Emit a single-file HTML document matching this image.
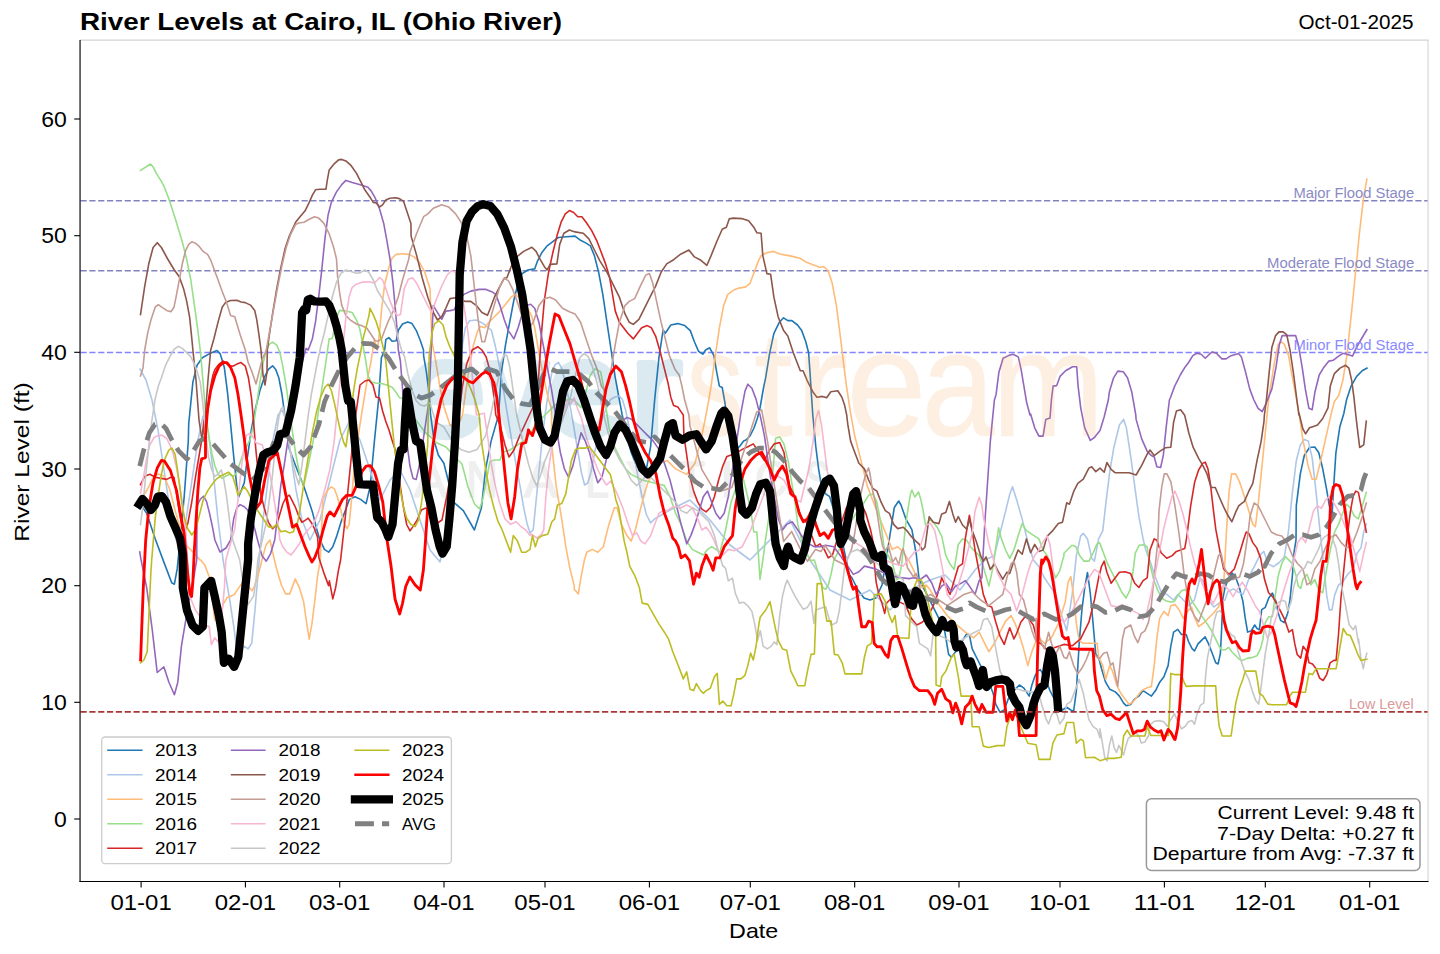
<!DOCTYPE html>
<html><head><meta charset="utf-8"><title>River Levels at Cairo, IL (Ohio River)</title>
<style>html,body{margin:0;padding:0;background:#fff;}body{width:1440px;height:954px;overflow:hidden;position:relative;font-family:"Liberation Sans",sans-serif;}</style></head>
<body>
<svg width="1440" height="954" viewBox="0 0 1440 954" style="position:absolute;left:0;top:0;font-family:'Liberation Sans',sans-serif">
<rect x="0" y="0" width="1440" height="954" fill="#fff"/>
<defs><clipPath id="ax"><rect x="80.5" y="40.5" width="1347.5" height="840.5"/></clipPath></defs>
<line x1="80.5" x2="1428" y1="200.8" y2="200.8" stroke="#8282c0" stroke-width="1.55" stroke-dasharray="6.17 2.67"/>
<line x1="80.5" x2="1428" y1="270.8" y2="270.8" stroke="#8282c0" stroke-width="1.55" stroke-dasharray="6.17 2.67"/>
<line x1="80.5" x2="1428" y1="352.4" y2="352.4" stroke="#8484ff" stroke-width="1.55" stroke-dasharray="6.17 2.67"/>
<g clip-path="url(#ax)" fill="none" stroke-linejoin="round">
<path d="M141.1,505.0 L146.7,513.3 L155.0,538.3 L163.3,560.6 L171.7,582.8 L174.4,584.2 L177.2,568.9 L180.0,541.1 L184.2,496.7 L188.3,441.1 L188.7,423.9 L192.9,381.9 L197.1,365.2 L202.3,357.8 L209.7,353.6 L217.0,350.5 L220.1,353.6 L224.3,367.3 L227.5,392.4 L230.6,423.9 L233.8,457.4 L236.9,486.8 L238.6,497.2 L241.1,490.9 L244.3,482.6 L247.4,457.4 L251.6,428.1 L255.8,407.1 L260.0,390.3 L264.2,377.7 L268.4,369.4 L272.6,365.8 L275.7,369.4 L278.8,377.7 L282.0,394.5 L285.1,417.6 L289.3,449.0 L295.6,465.8 L299.8,476.3 L304.0,486.8 L308.2,499.3 L312.4,511.9 L316.6,528.7 L319.7,539.2 L324.4,549.4 L328.6,552.2 L332.8,546.7 L336.9,535.6 L341.1,521.7 L345.3,510.6 L349.4,499.4 L355.0,496.7 L360.6,499.4 L366.1,503.6 L370.3,485.6 L374.4,441.1 L378.6,399.4 L381.4,357.8 L384.7,350.0 L385.8,339.7 L388.9,337.6 L392.1,341.2 L396.2,340.8 L398.3,330.3 L402.5,324.0 L407.8,321.9 L412.0,323.6 L416.2,330.3 L420.4,340.8 L423.5,350.0 L423.6,355.6 L426.4,372.2 L429.2,394.4 L430.6,415.0 L434.2,441.1 L438.3,455.0 L443.9,463.3 L453.6,502.2 L463.3,510.6 L474.4,530.0 L481.4,507.8 L485.6,468.9 L491.1,441.1 L498.6,415.0 L501.4,372.2 L505.6,344.4 L509.7,322.2 L513.9,300.0 L518.1,283.3 L522.2,273.6 L527.8,270.0 L534.7,268.9 L537.5,261.1 L541.7,252.8 L547.2,245.8 L552.8,241.7 L558.3,237.5 L566.7,236.7 L575.0,236.1 L580.6,240.3 L586.1,243.1 L590.3,245.8 L594.4,255.6 L598.6,272.2 L602.8,294.4 L606.9,322.2 L611.1,350.0 L615.3,377.8 L619.4,400.0 L622.2,415.0 L626.9,435.6 L631.1,452.2 L636.7,466.1 L642.2,470.3 L646.4,468.9 L650.6,446.7 L654.7,399.4 L658.9,357.8 L663.1,330.0 L665.3,333.3 L670.8,325.0 L677.8,323.6 L684.7,325.6 L690.3,330.6 L694.4,341.7 L698.6,351.4 L702.8,354.2 L705.6,350.0 L709.7,347.8 L713.9,355.6 L716.7,372.2 L719.4,386.1 L722.2,387.5 L725.0,402.8 L726.4,415.0 L729.7,421.7 L732.5,441.1 L735.3,449.4 L739.4,446.7 L743.6,441.1 L746.0,440.0 L750.0,436.0 L754.0,428.0 L757.5,418.0 L760.0,408.0 L761.4,400.0 L763.5,388.0 L765.6,378.2 L769.7,352.8 L773.9,333.3 L779.4,322.2 L783.6,317.8 L787.8,320.6 L791.9,320.6 L797.5,325.0 L801.7,330.6 L805.8,341.7 L808.6,352.8 L810.0,372.2 L811.4,394.4 L812.8,415.0 L815.8,446.7 L818.6,468.9 L821.4,485.6 L825.6,493.9 L829.7,496.7 L833.9,510.6 L838.1,524.4 L842.2,541.1 L846.4,560.6 L849.2,574.4 L852.0,578.0 L858.0,590.0 L864.0,598.0 L870.0,600.0 L876.0,598.0 L882.0,585.0 L885.4,565.0 L889.9,535.5 L894.3,507.5 L898.7,501.0 L901.0,505.0 L906.0,519.3 L911.9,529.6 L916.3,554.5 L919.2,580.0 L927.8,596.1 L936.1,612.8 L944.4,629.4 L948.6,654.4 L951.4,657.2 L955.6,651.7 L959.7,648.9 L962.5,640.6 L966.7,633.6 L969.4,635.0 L972.2,648.9 L977.8,660.0 L983.3,671.1 L988.9,682.2 L993.1,693.3 L995.8,704.4 L1000.0,712.2 L1004.2,710.0 L1008.3,698.9 L1013.9,690.6 L1019.4,685.0 L1023.6,687.8 L1026.4,691.9 L1029.2,696.1 L1031.9,685.0 L1034.7,676.7 L1037.5,671.1 L1040.3,669.7 L1044.4,676.7 L1050.0,690.6 L1055.6,701.7 L1062.5,710.0 L1066.7,707.2 L1070.8,710.0 L1073.6,711.4 L1076.4,690.6 L1079.2,643.3 L1081.9,610.0 L1084.7,587.8 L1087.5,572.5 L1090.3,593.3 L1093.1,623.9 L1095.8,654.4 L1098.6,657.2 L1101.4,668.3 L1105.6,682.2 L1109.7,689.2 L1115.3,691.9 L1119.4,696.1 L1123.6,703.1 L1126.4,705.8 L1130.6,704.4 L1134.7,698.9 L1138.9,696.1 L1143.1,690.6 L1147.2,693.3 L1151.4,696.1 L1155.6,690.6 L1159.7,682.2 L1163.9,676.7 L1168.1,665.6 L1170.8,646.1 L1173.6,632.2 L1177.8,629.4 L1181.5,634.5 L1186.2,634.5 L1188.5,641.5 L1192.1,648.6 L1194.5,651.0 L1198.0,643.9 L1201.5,640.4 L1205.1,636.8 L1208.6,643.9 L1212.2,653.3 L1215.7,662.8 L1218.1,664.0 L1220.4,653.3 L1221.6,629.7 L1222.8,599.0 L1225.1,587.2 L1228.7,577.8 L1232.2,573.1 L1235.8,577.8 L1239.3,587.2 L1242.9,601.4 L1245.2,617.9 L1247.6,632.1 L1251.1,630.9 L1254.7,625.0 L1257.0,628.5 L1259.4,629.7 L1261.7,609.7 L1265.3,607.3 L1268.8,597.9 L1272.4,593.1 L1275.9,601.4 L1278.3,613.2 L1280.6,620.3 L1284.2,622.6 L1287.7,613.2 L1290.1,599.0 L1292.4,575.4 L1294.1,551.8 L1296.0,540.0 L1296.3,505.6 L1300.3,473.9 L1304.3,455.5 L1309.5,447.5 L1314.8,447.0 L1318.8,452.8 L1322.7,468.7 L1326.7,489.8 L1329.3,505.6 L1332.0,516.2 L1333.3,492.4 L1335.9,452.8 L1339.9,426.4 L1343.9,413.2 L1346.5,400.0 L1351.1,386.1 L1356.7,376.4 L1362.2,370.8 L1366.9,368.1" stroke="#1f77b4" stroke-width="1.6" stroke-linecap="square"/>
<path d="M140.0,369.0 L146.0,380.0 L152.0,400.0 L158.0,430.0 L164.0,470.0 L170.0,510.0 L176.0,540.0 L181.0,548.0 L186.0,520.0 L192.0,480.0 L198.0,440.0 L203.0,416.0 L208.0,430.0 L213.0,470.0 L218.0,520.0 L223.1,560.0 L225.8,576.7 L230.0,601.7 L234.2,629.4 L236.9,651.7 L239.7,654.4 L243.9,646.1 L248.1,648.9 L251.7,643.3 L255.0,610.0 L257.8,576.7 L259.2,560.0 L263.0,520.0 L268.0,480.0 L273.0,440.0 L278.0,415.0 L282.0,410.0 L286.0,420.0 L290.0,450.0 L296.0,490.0 L302.0,520.0 L310.0,540.0 L320.0,520.0 L330.0,480.0 L340.0,440.0 L350.0,420.0 L360.0,440.0 L370.0,470.0 L380.0,500.0 L390.0,480.0 L400.0,470.0 L410.0,490.0 L420.0,520.0 L430.0,550.0 L440.0,562.0 L448.0,520.0 L455.0,440.0 L460.0,380.0 L462.5,344.4 L465.3,327.8 L469.4,320.8 L476.4,320.0 L483.3,323.6 L491.3,330.0 L495.5,346.8 L499.7,367.7 L503.9,392.9 L508.0,418.0 L512.2,443.2 L516.4,466.3 L520.6,489.3 L523.8,508.2 L526.9,522.9 L530.0,533.0 L533.2,530.0 L536.4,497.7 L539.5,466.3 L542.6,434.8 L545.8,409.7 L548.9,388.7 L552.0,372.0 L555.2,364.6 L558.4,362.5 L561.5,367.7 L564.7,380.3 L568.8,399.2 L573.0,422.2 L577.2,447.4 L581.4,472.5 L584.6,485.0 L587.7,483.0 L590.9,472.5 L594.0,455.8 L598.2,434.8 L602.4,418.0 L606.6,407.6 L610.8,399.2 L615.0,397.0 L619.2,396.0 L622.3,399.2 L625.5,409.7 L628.6,424.3 L631.7,441.0 L634.9,460.0 L638.0,476.8 L642.2,497.7 L646.4,514.5 L650.6,522.9 L654.8,518.7 L670.0,510.0 L690.0,500.0 L710.0,520.0 L730.0,545.0 L750.0,560.0 L770.0,540.0 L790.0,520.0 L810.0,560.0 L830.0,590.0 L850.0,600.0 L870.0,590.0 L890.0,610.0 L910.0,590.0 L930.0,580.0 L945.0,575.0 L960.0,590.0 L975.0,570.0 L985.0,560.0 L994.4,555.6 L1000.0,533.3 L1005.6,511.1 L1009.7,494.4 L1012.5,486.7 L1016.7,500.0 L1022.2,519.4 L1027.8,541.7 L1033.3,559.7 L1038.9,566.7 L1044.4,577.8 L1050.0,586.1 L1055.6,594.4 L1061.1,613.9 L1066.7,630.6 L1072.2,594.4 L1076.4,555.6 L1080.6,536.1 L1083.3,533.3 L1087.5,538.9 L1091.7,558.3 L1094.4,561.1 L1098.6,538.9 L1102.8,530.6 L1105.6,505.6 L1109.7,472.2 L1113.9,447.2 L1119.4,425.0 L1123.6,419.4 L1126.4,427.8 L1130.6,455.6 L1134.7,486.1 L1138.9,516.7 L1143.1,538.9 L1145.8,550.0 L1150.0,561.1 L1155.6,577.8 L1161.1,591.7 L1166.7,594.4 L1173.6,600.0 L1177.8,594.4 L1183.3,600.0 L1188.9,605.6 L1194.4,600.0 L1200.0,577.8 L1202.8,580.6 L1208.3,600.0 L1213.9,606.9 L1219.4,602.8 L1225.0,600.0 L1227.8,591.7 L1233.3,588.9 L1237.5,591.7 L1243.1,594.4 L1247.2,583.3 L1251.4,572.2 L1255.6,563.9 L1259.7,555.6 L1263.9,551.4 L1268.1,563.9 L1273.6,566.7 L1279.2,562.5 L1283.3,558.3 L1284.5,555.8 L1288.4,532.0 L1292.4,492.4 L1296.3,460.7 L1300.3,444.9 L1304.3,439.6 L1308.2,440.9 L1312.2,458.1 L1316.1,492.4 L1320.1,532.0 L1324.1,569.0 L1326.7,595.4 L1329.3,609.9 L1332.0,609.9 L1334.6,595.4 L1338.6,584.8 L1342.5,582.2 L1347.8,574.3 L1353.1,569.0 L1357.1,553.2 L1361.0,547.9 L1363.7,532.0 L1366.3,524.1" stroke="#aec7e8" stroke-width="1.6" stroke-linecap="square"/>
<path d="M141.0,500.0 L147.0,490.0 L153.0,478.0 L158.0,474.0 L164.0,476.0 L170.0,490.0 L175.0,510.0 L180.0,528.0 L186.0,545.0 L193.0,552.0 L200.0,560.0 L200.8,560.0 L205.0,565.6 L209.2,576.7 L211.9,596.1 L214.7,619.7 L218.9,621.1 L223.1,604.4 L227.2,597.5 L234.2,594.7 L239.7,586.4 L243.9,580.8 L249.4,587.8 L252.2,590.6 L255.0,585.0 L259.2,571.1 L261.9,560.0 L266.0,545.0 L270.0,540.0 L274.4,560.0 L277.2,571.1 L281.4,585.0 L285.6,593.9 L289.7,593.9 L295.3,578.9 L299.4,587.8 L303.6,601.7 L306.4,621.1 L309.2,639.2 L311.9,623.9 L314.7,601.7 L317.5,576.7 L320.3,560.0 L322.9,499.3 L327.1,490.9 L331.3,486.8 L334.4,488.8 L337.5,497.2 L340.7,509.8 L343.8,522.4 L347.0,528.7 L349.1,524.5 L351.2,503.5 L354.3,465.8 L358.5,434.3 L362.7,407.1 L366.9,381.9 L371.1,361.0 L374.2,340.0 L377.4,350.0 L379.5,332.4 L381.6,309.3 L384.7,284.2 L388.9,267.4 L392.1,258.0 L396.2,254.4 L402.5,253.8 L408.8,254.4 L414.1,256.9 L419.3,262.2 L424.5,271.6 L430.0,288.4 L431.9,341.7 L434.7,355.6 L437.5,372.2 L440.3,388.9 L444.4,408.3 L450.0,425.0 L456.9,427.8 L462.5,415.0 L465.3,394.4 L469.4,366.7 L473.6,344.4 L477.8,330.6 L480.6,326.4 L484.7,327.8 L488.9,322.2 L494.4,316.7 L500.0,311.1 L505.6,304.2 L511.1,297.2 L515.3,294.4 L522.2,300.0 L527.8,308.3 L531.9,316.7 L534.7,327.8 L537.5,344.4 L540.3,361.1 L544.4,380.6 L548.6,400.0 L551.4,408.3 L551.9,446.7 L556.1,485.6 L561.7,518.9 L565.8,546.7 L570.0,568.9 L574.2,585.6 L574.2,589.2 L578.3,593.9 L581.1,576.7 L584.4,560.0 L586.7,552.2 L592.2,549.4 L597.8,552.2 L603.3,546.7 L608.9,524.4 L614.4,507.8 L617.2,507.8 L621.4,524.4 L626.9,535.6 L631.1,541.1 L635.3,530.0 L639.4,513.3 L643.6,496.7 L647.8,482.8 L651.9,474.4 L658.9,463.3 L667.2,460.6 L675.6,468.9 L686.7,474.4 L695.0,463.3 L700.6,441.1 L704.7,421.7 L708.9,399.4 L711.1,386.1 L715.3,355.6 L719.4,327.8 L723.6,305.6 L727.8,294.4 L733.3,290.3 L738.9,288.1 L745.8,286.9 L750.0,283.3 L754.2,272.2 L758.3,261.1 L761.1,255.6 L766.7,252.8 L773.6,251.4 L780.6,254.2 L788.9,255.6 L794.4,256.9 L800.0,258.3 L805.8,261.9 L814.2,265.3 L819.7,267.2 L823.9,266.7 L828.1,270.8 L832.2,283.3 L836.4,305.6 L840.6,338.9 L842.2,352.2 L846.4,385.6 L850.6,413.3 L854.7,435.6 L858.9,452.2 L863.1,468.9 L867.2,485.6 L871.4,496.7 L875.6,507.8 L881.1,521.7 L886.7,535.6 L892.2,549.4 L897.8,546.7 L903.3,552.2 L908.9,560.6 L914.4,571.7 L916.7,579.4 L922.2,587.8 L926.4,585.0 L930.6,590.6 L938.9,604.4 L947.2,615.6 L955.6,623.9 L965.3,632.2 L973.6,637.8 L979.2,632.2 L983.3,640.6 L988.9,651.7 L994.4,643.3 L1000.0,632.2 L1005.6,621.1 L1011.1,615.6 L1015.3,623.9 L1019.4,635.0 L1023.6,648.9 L1027.8,665.6 L1031.9,651.7 L1036.1,640.6 L1038.9,637.8 L1044.4,643.3 L1051.4,637.8 L1058.3,623.9 L1065.3,601.7 L1068.1,582.2 L1070.8,576.7 L1073.6,596.1 L1076.4,623.9 L1079.2,640.6 L1083.3,643.3 L1091.7,643.3 L1097.2,643.3 L1098.6,657.2 L1102.8,665.6 L1105.6,679.4 L1109.7,665.6 L1112.5,671.1 L1116.7,685.0 L1120.8,693.3 L1125.0,698.9 L1129.2,704.4 L1133.3,701.7 L1137.5,696.1 L1141.7,690.6 L1147.2,687.8 L1151.4,686.4 L1154.2,665.6 L1156.9,637.8 L1159.7,618.3 L1163.9,611.4 L1168.1,615.6 L1170.8,605.8 L1175.0,604.4 L1179.2,610.0 L1183.3,618.3 L1187.5,611.4 L1191.7,607.2 L1194.4,616.9 L1198.6,626.7 L1204.2,622.5 L1208.3,618.3 L1213.9,612.8 L1218.1,607.2 L1221.1,600.7 L1223.7,584.8 L1226.4,532.0 L1229.0,492.4 L1231.6,473.9 L1235.6,473.9 L1239.6,481.9 L1244.8,497.7 L1248.8,510.9 L1252.8,524.1 L1255.4,526.7 L1258.0,505.6 L1260.7,479.2 L1264.6,439.6 L1268.6,400.0 L1270.6,386.1 L1274.7,361.1 L1278.3,344.4 L1281.1,341.7 L1284.4,344.4 L1288.6,355.6 L1291.4,372.2 L1295.6,394.4 L1299.0,413.2 L1302.9,439.6 L1308.2,466.0 L1312.2,479.2 L1316.1,479.2 L1320.1,463.4 L1325.4,439.6 L1330.7,415.8 L1334.4,401.4 L1338.6,395.8 L1342.8,380.6 L1346.9,355.6 L1351.1,316.7 L1355.3,275.0 L1359.4,233.3 L1363.6,197.2 L1366.9,179.2" stroke="#ffbb78" stroke-width="1.6" stroke-linecap="square"/>
<path d="M140.5,170.5 L150.5,164.0 L153.1,166.8 L156.2,173.1 L161.4,181.4 L164.6,187.7 L169.8,201.4 L176.1,221.3 L182.4,242.2 L186.6,259.0 L190.8,280.0 L195.0,309.3 L198.1,332.4 L200.2,350.0 L201.3,361.0 L203.4,386.1 L205.5,411.3 L208.6,434.3 L211.8,453.2 L214.9,465.8 L218.1,474.2 L222.2,478.4 L225.4,476.3 L229.6,474.2 L232.7,476.3 L235.9,474.2 L239.0,465.8 L243.2,453.2 L247.4,444.8 L250.5,438.5 L253.7,423.9 L256.8,402.9 L260.0,381.9 L263.1,363.1 L266.3,350.5 L269.4,344.2 L272.6,342.1 L276.8,345.2 L279.9,352.6 L283.0,367.3 L286.2,386.1 L289.3,409.2 L292.5,432.2 L295.6,453.2 L298.8,470.0 L300.9,480.5 L304.0,484.7 L308.2,465.8 L312.4,444.8 L316.6,423.9 L319.7,402.9 L322.9,381.9 L326.0,361.0 L328.1,346.3 L329.2,338.7 L332.3,338.7 L334.4,328.2 L336.5,317.7 L339.6,310.4 L345.9,311.0 L352.2,312.5 L356.4,319.8 L359.6,328.2 L361.7,338.7 L363.8,350.0 L365.8,361.0 L367.9,375.6 L371.1,381.9 L375.3,383.0 L381.6,383.6 L386.8,385.1 L392.1,387.2 L396.2,392.4 L399.4,397.7 L402.0,398.0 L412.0,415.0 L425.0,432.0 L437.0,443.0 L446.0,447.0 L454.0,456.0 L462.0,464.0 L468.0,487.0 L474.5,504.0 L479.7,509.0 L483.0,498.0 L487.0,477.0 L490.0,461.0 L495.0,460.0 L500.0,460.0 L503.0,452.0 L510.0,450.0 L525.0,440.0 L540.0,420.0 L555.0,405.0 L569.0,399.0 L575.0,401.0 L581.0,407.6 L585.6,393.0 L590.0,376.0 L594.0,369.8 L595.0,368.9 L600.6,371.7 L603.3,385.6 L606.1,407.8 L608.9,427.2 L614.4,446.7 L620.0,457.8 L625.6,468.9 L631.1,474.4 L642.2,480.0 L653.3,482.8 L664.4,485.6 L670.0,496.7 L675.6,513.3 L681.1,524.4 L686.7,541.1 L692.2,549.4 L697.8,552.2 L703.3,555.0 L707.5,549.4 L711.7,546.7 L715.8,549.4 L720.0,552.2 L725.6,530.0 L731.1,502.2 L736.7,485.6 L742.2,474.4 L750.6,509.0 L753.8,532.0 L756.9,532.0 L760.0,579.4 L763.2,557.4 L766.3,534.0 L769.5,513.4 L775.6,438.3 L779.7,436.9 L783.9,443.9 L788.1,460.6 L792.2,485.6 L795.0,502.2 L797.8,524.4 L801.9,541.1 L806.1,552.2 L810.3,560.6 L814.4,560.0 L818.6,573.9 L822.8,587.8 L825.6,589.2 L828.3,585.0 L831.1,573.9 L833.9,560.0 L838.1,552.2 L843.6,538.3 L849.2,524.4 L856.1,513.3 L864.4,502.2 L868.6,495.3 L872.8,493.9 L876.9,502.2 L881.1,524.4 L884.0,547.0 L888.4,556.0 L892.8,564.8 L896.5,580.0 L899.0,578.0 L901.6,564.8 L903.8,543.0 L906.0,522.0 L908.2,508.0 L910.4,494.3 L911.9,490.0 L914.8,497.0 L918.5,492.0 L920.7,499.0 L923.0,510.0 L925.8,526.6 L929.2,519.4 L933.3,522.2 L937.5,527.8 L941.7,536.1 L945.8,555.6 L950.0,563.9 L954.2,569.4 L958.3,544.4 L962.5,538.9 L966.7,540.3 L970.8,547.2 L975.0,551.4 L979.2,555.6 L983.3,566.7 L988.9,586.1 L993.1,566.7 L995.8,547.2 L998.6,527.8 L1001.4,538.9 L1005.6,550.0 L1009.7,558.3 L1013.9,550.0 L1018.1,536.1 L1022.2,523.6 L1026.4,530.6 L1030.6,533.3 L1034.7,536.1 L1038.9,538.9 L1043.1,550.0 L1047.2,555.6 L1051.4,566.7 L1055.6,577.8 L1059.7,570.8 L1063.9,555.6 L1064.0,553.2 L1067.9,549.2 L1071.9,545.2 L1075.8,546.6 L1079.8,555.8 L1083.8,561.1 L1089.0,561.1 L1093.0,553.2 L1097.0,543.9 L1099.6,542.6 L1103.6,553.2 L1107.5,563.7 L1111.5,571.6 L1116.8,582.2 L1122.1,592.8 L1126.0,598.0 L1130.0,590.1 L1132.6,574.3 L1135.3,553.2 L1139.2,545.2 L1143.2,544.7 L1147.1,546.6 L1149.8,563.7 L1153.7,579.6 L1157.7,590.1 L1161.7,598.0 L1165.6,600.7 L1170.9,602.0 L1174.4,601.4 L1177.9,595.5 L1181.5,590.8 L1185.0,589.6 L1188.5,593.1 L1192.1,601.4 L1196.8,608.5 L1201.5,615.6 L1206.3,622.6 L1211.0,629.7 L1215.7,639.2 L1219.2,646.3 L1221.6,649.8 L1225.1,649.8 L1228.7,647.4 L1232.2,652.2 L1235.8,655.7 L1239.3,659.2 L1242.9,660.4 L1247.6,658.1 L1252.3,657.6 L1257.0,655.7 L1260.6,648.6 L1262.9,639.2 L1265.3,622.6 L1268.8,616.7 L1272.4,616.7 L1274.7,599.0 L1278.3,575.4 L1281.8,563.6 L1285.4,556.5 L1288.9,560.1 L1292.4,563.6 L1296.0,575.4 L1298.3,586.0 L1300.7,588.4 L1302.9,579.6 L1306.9,574.3 L1310.9,584.8 L1314.8,579.6 L1318.8,590.1 L1322.7,592.8 L1326.7,569.0 L1330.7,547.9 L1334.6,532.0 L1338.6,524.1 L1342.5,513.5 L1346.5,504.3 L1350.5,508.3 L1354.4,516.2 L1358.4,518.8 L1362.4,505.6 L1366.3,492.4" stroke="#98df8a" stroke-width="1.6" stroke-linecap="square"/>
<path d="M140.5,484.7 L144.7,476.3 L149.9,474.2 L155.2,477.3 L161.4,478.4 L166.7,479.4 L170.9,477.3 L174.0,477.3 L176.1,490.9 L179.3,511.9 L182.4,528.7 L184.1,532.9 L187.9,523.0 L191.6,503.0 L195.4,477.7 L199.2,455.0 L201.7,440.0 L204.0,420.0 L206.5,419.7 L208.6,402.9 L210.7,386.1 L212.8,375.6 L214.9,369.4 L219.1,364.1 L223.3,361.0 L228.5,365.2 L232.7,366.2 L236.9,364.1 L241.1,362.6 L245.3,366.2 L248.4,377.7 L251.6,398.7 L253.7,423.9 L255.8,449.0 L257.9,470.0 L261.0,495.1 L264.2,507.7 L268.4,522.4 L272.6,528.7 L276.8,524.5 L279.9,514.0 L283.0,503.5 L286.2,497.2 L289.3,495.1 L292.5,501.4 L295.6,507.7 L298.8,516.1 L301.9,522.4 L305.1,520.3 L308.2,518.2 L311.3,522.4 L314.5,528.7 L317.6,537.1 L318.9,557.8 L324.4,574.4 L328.6,585.6 L329.4,580.8 L332.8,598.9 L335.6,587.8 L338.3,571.1 L340.6,560.0 L345.0,520.0 L350.0,470.0 L355.0,420.0 L360.0,385.0 L365.0,381.0 L369.0,380.0 L373.0,385.0 L376.0,397.0 L379.5,398.0 L382.6,411.0 L386.0,422.0 L389.0,430.0 L392.0,440.0 L395.0,449.0 L397.3,466.0 L400.4,487.0 L403.6,508.0 L406.7,524.5 L410.0,530.8 L413.0,526.6 L417.2,520.0 L421.4,510.0 L425.6,508.0 L430.0,512.0 L436.0,524.0 L442.0,520.0 L448.0,490.0 L454.0,450.0 L458.0,420.0 L462.5,386.1 L466.7,363.9 L472.2,350.0 L477.8,346.7 L481.9,350.0 L486.1,356.9 L488.9,366.7 L491.7,380.6 L494.4,400.0 L495.8,415.0 L500.0,425.0 L505.0,445.0 L509.0,457.0 L514.0,450.0 L520.0,435.0 L527.0,420.0 L534.0,405.0 L536.1,415.0 L538.9,372.2 L541.7,330.6 L544.4,300.0 L548.6,272.2 L552.8,252.8 L556.9,236.1 L561.1,222.2 L565.3,213.9 L569.4,210.6 L573.6,212.5 L577.8,216.7 L581.9,216.7 L586.1,222.2 L591.7,230.6 L597.2,241.7 L601.4,252.8 L605.6,263.9 L609.7,277.8 L612.5,294.4 L615.3,311.1 L619.4,322.2 L623.6,327.8 L627.8,333.3 L633.3,338.9 L637.5,333.3 L641.7,327.8 L647.2,325.6 L651.4,327.8 L655.6,336.1 L659.7,350.0 L663.9,366.7 L668.1,383.3 L670.8,397.2 L673.6,405.6 L677.8,406.9 L680.6,411.1 L683.3,415.0 L683.9,435.6 L686.7,455.0 L689.4,474.4 L693.6,491.1 L697.8,502.2 L701.9,509.2 L706.1,511.9 L710.3,507.8 L714.4,496.7 L718.6,480.0 L722.8,466.1 L726.9,456.4 L731.1,455.0 L735.3,453.6 L742.2,449.4 L747.8,446.7 L753.3,443.9 L758.9,452.2 L764.4,460.6 L770.0,449.4 L774.2,443.9 L779.7,442.5 L783.9,452.2 L786.7,468.9 L789.4,485.6 L793.6,493.9 L797.8,507.8 L801.9,518.9 L806.1,521.7 L811.7,535.6 L815.8,546.7 L820.0,543.9 L824.2,549.4 L828.3,557.8 L832.5,555.0 L836.7,541.1 L840.8,524.4 L846.4,507.8 L853.3,496.7 L860.3,502.2 L865.8,513.3 L870.6,530.0 L872.5,538.9 L874.3,563.4 L876.2,582.3 L879.1,595.5 L881.9,603.0 L884.7,613.4 L886.6,603.0 L890.4,599.2 L897.9,601.1 L905.5,604.9 L911.1,618.1 L916.7,625.0 L922.2,622.2 L927.8,616.7 L933.3,605.6 L937.5,594.4 L941.7,577.8 L945.8,586.1 L950.0,594.4 L954.2,580.6 L958.3,566.7 L962.5,563.9 L965.3,538.9 L968.1,522.2 L969.4,515.3 L972.2,530.6 L975.0,550.0 L979.2,572.2 L983.3,594.4 L987.5,605.6 L991.7,606.9 L995.8,622.2 L1000.0,636.1 L1004.2,644.4 L1006.9,636.1 L1009.7,627.8 L1013.9,638.9 L1016.7,633.3 L1020.8,622.2 L1025.0,616.7 L1029.2,619.4 L1033.3,625.0 L1037.5,641.7 L1041.7,644.4 L1047.2,650.0 L1055.6,647.2 L1063.9,644.4 L1072.2,645.8 L1080.6,638.9 L1088.9,622.2 L1094.4,600.0 L1098.6,577.8 L1101.4,566.7 L1104.2,561.1 L1106.9,572.2 L1111.1,583.3 L1115.3,577.8 L1119.4,572.2 L1125.0,571.7 L1130.6,573.6 L1134.7,583.3 L1138.9,587.5 L1143.1,580.6 L1147.2,577.8 L1150.0,550.0 L1154.2,538.9 L1156.9,540.3 L1161.1,552.8 L1166.7,558.3 L1172.2,555.6 L1176.4,551.4 L1180.6,550.0 L1184.7,548.6 L1186.7,537.3 L1190.7,505.6 L1194.7,481.9 L1198.6,470.0 L1202.6,463.4 L1205.2,462.1 L1207.9,468.7 L1210.5,484.5 L1213.2,508.3 L1215.8,529.4 L1219.8,550.5 L1223.7,569.0 L1229.0,574.3 L1234.3,569.0 L1239.6,553.2 L1243.5,540.0 L1246.2,532.0 L1248.8,533.4 L1252.8,542.6 L1256.7,547.9 L1260.7,558.4 L1264.6,579.6 L1268.6,592.8 L1272.6,596.7 L1276.5,603.3 L1280.5,611.2 L1284.5,619.2 L1288.9,632.1 L1292.4,629.7 L1294.8,643.9 L1297.2,654.5 L1300.7,658.1 L1303.1,646.3 L1306.6,651.0 L1309.0,662.8 L1312.5,664.0 L1316.1,668.7 L1319.6,678.1 L1323.1,680.5 L1326.7,674.6 L1330.2,662.8 L1333.8,660.4 L1336.1,660.4 L1338.5,634.5 L1340.9,599.0 L1344.4,563.6 L1346.8,540.0 L1346.5,545.2 L1347.8,532.0 L1350.5,510.9 L1353.1,496.4 L1355.7,491.1 L1358.4,492.4 L1361.0,505.6 L1363.7,518.8 L1366.3,532.0" stroke="#d62728" stroke-width="1.6" stroke-linecap="square"/>
<path d="M139.7,552.0 L141.1,560.0 L146.7,587.8 L152.2,629.4 L157.2,672.5 L163.9,666.9 L168.9,682.2 L174.4,694.7 L177.8,682.2 L181.4,646.1 L185.6,621.1 L189.7,596.1 L193.9,576.7 L196.7,560.0 L197.1,505.6 L200.2,499.3 L203.4,496.2 L206.5,501.4 L209.7,514.0 L212.8,528.7 L214.9,540.0 L220.0,552.0 L226.0,548.0 L230.6,540.0 L233.8,518.2 L236.9,507.7 L240.1,504.6 L244.3,506.7 L247.4,509.8 L251.6,518.2 L254.7,528.7 L257.9,541.3 L262.1,555.9 L266.3,561.2 L270.5,553.8 L274.7,540.0 L276.8,522.4 L278.8,503.5 L280.9,484.7 L284.1,465.8 L287.2,444.8 L290.4,423.9 L293.5,402.9 L297.7,381.9 L301.9,363.1 L306.1,348.4 L308.2,350.0 L312.4,338.7 L315.5,321.9 L318.7,296.8 L321.8,269.5 L325.0,238.1 L328.1,215.0 L331.3,202.4 L336.5,191.9 L341.7,184.6 L345.9,180.4 L352.2,182.5 L358.5,184.2 L362.7,185.6 L367.9,187.3 L371.1,190.9 L375.3,198.2 L379.5,208.7 L383.7,223.4 L386.8,240.1 L390.0,259.0 L393.1,284.2 L395.2,307.2 L397.3,332.4 L398.3,350.0 L400.4,361.0 L402.5,388.2 L404.6,417.6 L406.7,440.6 L409.9,465.8 L413.0,478.4 L416.2,479.4 L419.3,465.8 L422.5,444.8 L425.6,423.9 L428.7,402.9 L433.3,305.6 L441.7,319.4 L445.8,311.1 L450.0,310.6 L454.2,309.7 L458.3,300.0 L463.9,294.4 L470.8,291.1 L479.2,289.4 L486.1,289.4 L491.7,291.7 L495.8,294.4 L500.0,305.6 L504.2,319.4 L508.3,330.6 L513.9,338.9 L518.1,327.8 L522.2,313.9 L526.4,305.6 L530.6,304.2 L534.7,308.3 L538.9,322.2 L543.1,344.4 L547.2,366.7 L551.4,388.9 L555.6,415.0 L556.1,427.2 L560.3,452.2 L564.4,468.9 L568.6,477.2 L572.8,466.1 L576.9,449.4 L581.1,432.8 L585.3,441.1 L589.4,452.2 L593.6,468.9 L597.8,482.8 L601.9,477.2 L606.1,460.6 L610.3,441.1 L615.8,427.2 L621.4,421.7 L626.9,417.5 L631.1,418.9 L636.7,424.4 L642.2,430.0 L647.8,435.6 L653.3,441.1 L658.9,449.4 L664.4,463.3 L670.0,480.0 L675.6,502.2 L681.1,524.4 L686.7,543.9 L690.8,535.6 L695.0,524.4 L699.2,510.6 L703.3,496.7 L707.5,491.1 L711.7,502.2 L715.8,513.3 L720.0,518.9 L724.2,513.3 L728.3,496.7 L732.5,468.9 L736.7,441.1 L740.8,413.3 L745.0,391.1 L747.8,384.2 L751.9,388.3 L756.1,399.4 L760.3,416.1 L764.4,435.6 L767.2,455.0 L770.0,474.4 L774.2,496.7 L778.3,518.9 L782.5,530.0 L786.7,524.4 L792.2,521.7 L797.8,530.0 L803.3,538.3 L808.9,543.9 L814.4,546.7 L820.0,546.7 L825.6,545.3 L833.9,546.7 L847.8,566.1 L853.3,574.4 L858.9,571.7 L864.4,566.1 L875.6,568.9 L886.7,574.4 L897.8,577.2 L908.9,578.6 L913.9,577.8 L920.8,579.2 L926.4,575.0 L931.9,583.3 L936.1,594.4 L941.7,586.1 L945.8,583.3 L951.4,591.7 L955.6,586.1 L961.1,583.3 L965.3,580.6 L969.4,586.1 L975.0,594.4 L979.2,580.6 L981.9,577.8 L984.7,525.0 L987.5,483.3 L990.3,441.7 L994.4,400.0 L996.1,394.4 L998.9,372.2 L1003.1,358.3 L1008.6,355.6 L1012.8,354.2 L1018.3,356.9 L1021.1,369.4 L1023.9,386.1 L1026.7,402.8 L1030.0,415.0 L1030.6,413.9 L1034.7,427.8 L1038.9,436.1 L1043.1,436.1 L1045.8,419.4 L1050.0,418.1 L1051.4,400.0 L1053.1,386.1 L1056.7,385.6 L1060.0,376.4 L1065.6,370.8 L1072.5,366.7 L1076.7,366.7 L1078.1,386.1 L1080.8,408.3 L1084.7,427.8 L1090.3,440.3 L1094.4,437.5 L1100.0,430.6 L1104.2,416.7 L1108.3,400.0 L1109.4,391.7 L1113.6,377.8 L1117.8,371.1 L1123.3,371.7 L1127.5,377.8 L1131.7,391.7 L1135.8,415.0 L1136.1,419.4 L1141.7,438.9 L1147.2,451.4 L1151.4,455.6 L1154.2,456.9 L1156.9,466.7 L1160.6,467.5 L1163.3,455.6 L1166.1,427.8 L1169.4,400.0 L1170.6,397.2 L1174.7,386.1 L1180.3,375.0 L1184.4,368.1 L1188.6,362.5 L1192.8,355.6 L1196.9,353.3 L1201.1,354.2 L1205.3,358.3 L1209.4,354.2 L1212.2,351.9 L1216.4,353.3 L1221.9,358.9 L1226.1,358.9 L1230.3,356.1 L1238.6,353.6 L1241.4,356.9 L1245.6,372.2 L1249.7,388.9 L1253.9,400.0 L1258.1,408.3 L1262.2,411.7 L1266.4,402.8 L1271.9,388.9 L1276.1,366.7 L1279.4,344.4 L1282.2,335.6 L1295.6,335.6 L1298.3,344.4 L1302.5,369.4 L1305.3,388.9 L1308.9,408.3 L1312.2,409.7 L1315.0,391.7 L1319.2,375.0 L1323.3,368.1 L1328.9,361.1 L1333.1,360.3 L1338.6,356.1 L1342.8,353.3 L1346.9,354.2 L1352.5,356.1 L1356.7,347.2 L1362.2,337.5 L1366.9,329.7" stroke="#9467bd" stroke-width="1.6" stroke-linecap="square"/>
<path d="M140.5,314.6 L144.7,286.3 L148.9,263.2 L153.1,247.5 L157.3,242.7 L161.4,247.5 L167.7,259.0 L174.0,269.5 L179.3,276.8 L183.5,288.4 L186.6,300.9 L189.7,317.7 L191.8,338.7 L192.9,350.0 L196.0,380.0 L199.0,420.0 L202.0,440.0 L205.0,420.0 L208.0,380.0 L210.7,350.0 L213.9,338.7 L218.1,321.9 L222.2,307.2 L225.4,302.6 L230.6,300.5 L236.9,300.3 L241.1,302.0 L245.3,302.6 L250.5,305.1 L254.7,310.4 L256.8,319.8 L258.9,334.5 L261.0,350.0 L263.0,375.0 L265.0,385.0 L267.0,372.0 L267.3,350.0 L269.4,334.5 L272.6,313.5 L276.8,288.4 L280.9,267.4 L285.1,248.5 L289.3,236.0 L295.6,222.3 L299.8,217.1 L305.1,210.8 L309.2,202.4 L312.4,195.1 L315.5,189.8 L319.7,189.2 L326.0,189.2 L327.1,181.4 L329.2,169.9 L334.4,163.6 L338.6,159.9 L341.7,159.4 L345.9,160.9 L351.2,165.7 L356.4,173.1 L360.6,181.4 L364.8,189.8 L370.0,197.2 L373.2,202.4 L376.3,203.0 L379.5,207.0 L382.6,204.9 L385.8,199.9 L390.0,198.2 L395.2,197.8 L399.4,198.6 L403.6,201.4 L406.7,210.8 L410.9,223.4 L411.1,236.1 L416.7,255.6 L422.2,277.8 L427.8,297.2 L433.3,312.5 L437.5,320.0 L441.7,316.7 L445.8,308.3 L450.0,298.6 L455.6,297.8 L459.7,300.0 L465.3,301.4 L470.8,301.4 L476.4,305.6 L481.9,312.5 L487.5,315.3 L490.3,308.3 L494.4,297.2 L500.0,286.1 L504.2,278.3 L506.9,277.8 L511.1,266.7 L516.7,256.9 L523.6,251.4 L531.9,247.2 L536.1,251.4 L540.3,259.7 L544.4,266.7 L547.2,270.0 L550.0,264.4 L556.9,263.9 L559.7,244.4 L563.9,233.3 L569.4,230.0 L575.0,231.9 L583.3,233.3 L588.9,238.9 L594.4,250.0 L600.0,261.1 L606.9,272.2 L613.9,286.1 L619.4,297.2 L625.0,313.9 L629.2,322.2 L633.3,324.4 L638.9,319.4 L644.4,308.3 L650.0,297.2 L655.6,286.1 L661.1,272.2 L666.7,263.9 L673.6,259.7 L680.6,254.2 L688.9,250.0 L694.4,256.9 L700.0,259.7 L706.9,265.3 L711.1,255.6 L716.7,241.7 L722.2,229.2 L726.4,227.2 L729.2,218.9 L733.3,218.1 L741.7,218.6 L748.6,220.8 L754.2,227.8 L756.9,232.8 L761.1,233.3 L762.8,255.6 L766.9,273.6 L770.6,274.2 L773.9,297.2 L778.1,316.7 L783.6,330.6 L787.8,336.1 L793.3,352.8 L800.3,370.8 L803.1,370.8 L807.2,380.6 L812.8,391.7 L816.9,397.2 L822.5,396.4 L826.7,397.8 L830.8,391.7 L837.8,390.8 L841.9,397.2 L844.7,405.6 L846.7,415.0 L847.8,424.4 L850.6,441.1 L854.7,452.2 L858.9,463.3 L864.4,468.9 L868.6,480.0 L872.8,488.3 L876.9,491.1 L881.1,502.2 L885.3,510.6 L889.4,513.3 L893.6,524.4 L897.8,528.6 L903.3,527.2 L907.5,531.4 L911.7,536.9 L915.8,541.1 L919.4,544.4 L922.2,550.0 L925.0,547.2 L929.2,516.7 L933.3,522.2 L938.9,523.6 L941.7,513.9 L945.8,512.5 L949.4,501.4 L952.8,513.9 L955.6,522.2 L958.3,516.7 L962.5,525.0 L966.7,529.2 L969.4,519.4 L972.2,530.6 L976.4,541.7 L980.6,555.6 L983.3,561.1 L986.1,556.9 L990.3,569.4 L994.4,563.9 L998.6,572.2 L1002.8,579.2 L1006.9,572.2 L1009.7,573.6 L1013.9,561.1 L1018.1,550.0 L1022.2,554.2 L1026.4,538.9 L1030.6,552.8 L1034.7,544.4 L1038.9,551.4 L1043.1,550.0 L1047.2,536.1 L1052.8,530.6 L1058.3,523.6 L1062.5,522.2 L1066.7,502.8 L1069.4,504.2 L1073.6,491.7 L1077.8,483.3 L1083.3,479.2 L1088.9,468.1 L1091.7,466.7 L1095.8,471.7 L1100.0,468.1 L1104.2,472.2 L1106.9,462.5 L1111.1,469.4 L1115.3,472.8 L1122.2,472.8 L1129.2,472.8 L1136.1,475.0 L1141.7,465.3 L1147.2,454.2 L1150.0,450.0 L1154.2,455.6 L1159.7,451.4 L1165.3,447.8 L1170.8,447.2 L1173.6,422.2 L1176.4,411.1 L1180.6,409.7 L1184.7,415.3 L1188.9,433.3 L1193.1,447.2 L1198.6,458.3 L1202.8,465.3 L1206.9,473.6 L1211.1,487.5 L1215.3,487.5 L1219.4,497.2 L1223.6,506.9 L1227.8,515.3 L1231.9,521.7 L1236.1,511.1 L1238.9,505.6 L1244.4,501.4 L1248.6,491.7 L1252.8,483.3 L1256.9,461.1 L1261.1,441.7 L1263.9,422.2 L1264.4,415.0 L1266.4,400.0 L1269.2,372.2 L1271.9,347.2 L1275.6,335.6 L1278.9,331.9 L1283.1,331.9 L1286.7,334.7 L1290.0,350.0 L1293.3,372.2 L1296.9,400.0 L1298.9,415.0 L1299.0,413.2 L1302.9,429.0 L1305.6,433.8 L1309.5,427.7 L1313.5,426.4 L1317.5,425.1 L1322.7,418.5 L1328.0,407.9 L1330.3,386.1 L1334.4,373.6 L1340.0,368.1 L1345.6,365.3 L1348.9,368.1 L1351.7,380.6 L1353.9,397.2 L1355.8,415.0 L1357.1,426.4 L1359.7,447.5 L1363.7,444.9 L1366.3,421.1" stroke="#8c564b" stroke-width="1.6" stroke-linecap="square"/>
<path d="M140.5,376.0 L143.0,368.0 L144.7,350.0 L147.8,332.4 L151.0,319.8 L155.2,307.2 L158.3,304.7 L161.4,306.8 L166.7,310.4 L170.9,311.8 L174.0,307.2 L176.1,296.8 L179.3,280.0 L182.4,263.2 L185.6,250.6 L188.7,244.3 L191.8,241.8 L195.0,242.9 L199.2,246.4 L203.4,251.7 L207.6,254.4 L210.7,260.1 L214.9,271.6 L218.1,280.0 L222.2,291.5 L226.4,302.0 L230.6,315.6 L234.8,316.7 L236.9,324.0 L240.1,334.5 L244.3,347.1 L245.3,350.0 L248.0,362.0 L252.0,372.0 L256.0,384.0 L259.0,372.0 L262.0,360.0 L266.3,350.0 L269.4,332.4 L273.6,309.3 L277.8,286.3 L282.0,265.3 L286.2,247.5 L290.4,234.9 L295.6,224.4 L298.8,223.0 L304.0,222.3 L309.2,219.2 L314.5,216.7 L318.7,218.1 L323.9,223.4 L329.2,233.9 L333.4,246.4 L336.5,259.0 L337.5,275.8 L339.6,292.6 L341.7,305.1 L345.9,315.6 L350.1,319.8 L356.4,324.0 L362.7,326.1 L366.9,328.2 L371.1,334.5 L375.3,340.8 L378.4,341.2 L381.6,338.7 L384.7,330.3 L388.9,319.8 L393.1,311.4 L398.3,296.8 L402.5,280.0 L408.8,259.0 L409.7,252.8 L416.7,233.3 L423.6,216.7 L427.8,213.9 L433.3,208.3 L441.7,204.7 L448.6,206.9 L455.6,213.9 L461.1,222.2 L466.7,236.1 L470.8,255.6 L473.6,280.6 L476.4,305.6 L479.2,327.8 L481.9,341.7 L484.7,341.7 L487.5,330.6 L491.7,313.9 L495.8,300.0 L500.0,286.1 L504.2,278.3 L508.3,280.6 L512.5,288.9 L516.7,300.0 L522.2,316.7 L526.4,327.8 L529.2,327.8 L533.3,322.2 L538.9,305.6 L544.4,298.6 L550.0,297.2 L555.6,300.0 L562.5,308.3 L569.4,311.7 L575.0,313.9 L580.6,322.2 L586.1,338.9 L591.7,355.6 L597.2,369.4 L601.4,386.1 L605.6,391.7 L608.3,383.3 L611.1,369.4 L615.3,344.4 L619.4,322.2 L625.0,305.6 L629.2,301.4 L634.7,298.6 L640.3,286.1 L645.8,275.0 L649.4,273.6 L652.8,283.3 L656.9,302.8 L661.1,322.2 L665.3,338.9 L669.4,355.6 L675.0,369.4 L679.2,375.0 L681.9,386.1 L684.7,400.0 L688.9,415.0 L690.0,425.9 L701.9,469.7 L713.9,489.6 L719.8,491.6 L731.8,487.6 L747.7,439.8 L756.7,411.9 L761.7,409.9 L767.6,441.8 L775.6,493.6 L783.6,541.4 L791.6,531.4 L799.5,547.4 L807.5,561.3 L815.5,549.4 L820.8,551.6 L825.2,545.7 L835.0,560.0 L845.0,565.0 L851.7,548.7 L854.6,534.0 L857.5,513.4 L860.5,495.8 L863.4,482.6 L866.4,472.3 L868.6,467.9 L870.0,473.8 L872.2,488.5 L875.2,501.7 L878.1,519.3 L880.3,534.0 L882.5,545.7 L884.7,551.6 L888.4,545.7 L890.6,554.5 L892.8,561.9 L895.7,557.5 L898.7,564.8 L901.6,551.6 L903.1,548.7 L905.3,556.0 L907.5,567.8 L910.4,572.2 L913.3,576.6 L916.3,573.6 L918.5,580.1 L922.2,600.0 L930.6,594.4 L938.9,600.0 L947.2,605.6 L955.6,600.0 L963.9,594.4 L972.2,591.7 L980.6,600.0 L988.9,605.6 L995.8,600.0 L1002.8,594.4 L1006.9,577.8 L1011.1,563.9 L1013.9,561.1 L1016.7,572.2 L1019.4,594.4 L1023.6,600.0 L1027.8,616.7 L1031.9,630.6 L1036.1,641.7 L1036.1,618.3 L1040.3,640.6 L1044.4,648.9 L1048.6,632.2 L1051.4,643.3 L1055.6,654.4 L1059.7,646.1 L1063.9,657.2 L1066.7,658.6 L1069.4,651.7 L1073.6,665.6 L1077.8,673.9 L1081.9,668.3 L1086.1,660.0 L1090.3,648.9 L1094.4,654.4 L1098.6,658.6 L1100.0,658.1 L1103.5,653.3 L1107.1,652.2 L1110.6,665.1 L1113.0,662.8 L1115.3,674.6 L1117.7,686.4 L1120.1,662.8 L1122.4,639.2 L1124.8,628.5 L1130.7,625.0 L1134.2,635.6 L1137.8,642.7 L1141.3,633.3 L1144.9,630.9 L1148.4,622.6 L1150.8,610.8 L1153.1,587.2 L1155.5,563.6 L1157.9,540.0 L1159.0,510.9 L1161.7,487.1 L1164.3,473.9 L1166.9,473.9 L1170.9,481.9 L1174.9,505.6 L1178.8,532.0 L1181.5,553.2 L1184.1,574.3 L1186.7,590.1 L1190.7,608.6 L1194.7,616.5 L1198.6,621.8 L1202.6,611.2 L1206.6,600.7 L1210.5,590.1 L1214.5,571.6 L1218.4,555.8 L1221.1,553.2 L1223.7,566.4 L1227.7,574.3 L1233.0,579.6 L1239.6,576.9 L1243.5,563.7 L1247.5,537.3 L1250.1,516.2 L1254.1,503.0 L1258.0,505.6 L1262.0,513.5 L1266.0,521.5 L1271.2,532.0 L1276.5,534.7 L1281.8,536.0 L1287.1,542.6 L1292.4,555.8 L1297.7,563.7 L1302.9,569.0 L1306.9,584.8 L1310.9,582.2 L1314.8,569.0 L1320.1,561.1 L1325.4,547.9 L1330.7,537.3 L1335.9,534.7 L1341.2,542.6 L1346.5,547.9 L1351.8,545.2 L1357.1,532.0 L1362.4,516.2 L1366.3,503.0" stroke="#c49c94" stroke-width="1.6" stroke-linecap="square"/>
<path d="M140.5,493.0 L143.6,476.3 L146.8,457.4 L149.9,444.8 L154.1,437.5 L158.3,435.4 L162.5,435.4 L166.7,438.5 L169.8,444.8 L173.0,453.2 L176.1,465.8 L179.3,482.6 L182.4,503.5 L185.6,528.7 L189.7,596.1 L195.3,610.0 L206.4,625.3 L209.2,626.7 L211.4,644.7 L214.7,637.8 L218.3,641.9 L221.7,615.6 L224.4,587.8 L225.8,560.0 L234.8,528.7 L238.0,499.3 L241.1,470.0 L244.3,444.8 L246.4,435.4 L249.5,433.3 L252.6,436.4 L255.8,442.7 L258.9,443.8 L262.1,444.8 L265.2,453.2 L268.4,465.8 L271.5,482.6 L274.7,503.5 L277.8,522.4 L279.9,540.0 L282.8,546.7 L286.9,552.2 L291.1,555.0 L295.3,549.4 L299.4,543.9 L303.6,535.6 L307.8,530.0 L313.3,524.4 L318.9,510.6 L324.4,491.1 L330.0,468.9 L334.2,441.1 L336.9,413.3 L339.7,385.6 L342.5,357.8 L343.8,338.7 L345.9,317.7 L349.1,296.8 L352.2,287.3 L356.4,284.2 L362.7,282.1 L369.0,281.7 L374.2,283.1 L377.4,280.0 L379.5,277.5 L382.6,280.0 L385.8,288.4 L390.0,300.9 L394.2,311.4 L397.3,315.6 L400.4,314.6 L404.2,288.9 L408.3,279.2 L412.5,277.8 L416.7,283.3 L422.2,294.4 L427.8,305.6 L431.9,312.5 L436.1,300.0 L441.7,286.1 L447.2,275.0 L451.4,270.8 L455.6,272.2 L459.7,283.3 L463.9,305.6 L468.1,333.3 L470.8,361.1 L473.6,388.9 L476.4,415.0 L484.2,413.3 L488.3,441.1 L491.1,463.3 L495.3,485.6 L499.4,502.2 L505.0,518.9 L510.6,524.4 L516.1,521.7 L521.7,527.2 L525.8,530.0 L530.0,535.6 L531.0,534.0 L537.0,538.0 L541.0,535.0 L543.7,530.0 L545.8,497.7 L548.9,466.3 L552.0,447.4 L556.3,430.6 L560.5,418.0 L564.7,407.6 L567.8,400.2 L570.9,403.4 L574.0,398.0 L577.2,407.6 L581.4,418.0 L585.6,434.8 L589.8,447.4 L594.0,460.0 L598.2,470.5 L602.4,478.8 L606.6,485.0 L610.8,481.0 L617.2,493.9 L622.8,507.8 L628.3,524.4 L632.5,535.6 L636.7,532.8 L640.8,541.1 L645.0,543.9 L650.6,535.6 L654.7,524.4 L658.9,513.3 L663.1,510.6 L667.2,510.6 L671.4,507.8 L675.6,506.4 L681.1,507.8 L686.7,505.0 L692.2,507.8 L697.8,518.9 L701.9,530.0 L706.1,527.2 L710.3,532.8 L714.4,541.1 L718.6,552.2 L722.8,555.0 L728.3,549.4 L733.9,550.8 L742.2,546.7 L750.6,530.0 L758.9,507.8 L767.2,485.6 L775.6,474.4 L783.9,480.0 L792.2,496.7 L800.6,502.2 L808.9,468.9 L813.1,441.1 L815.8,418.9 L818.6,410.6 L821.4,424.4 L824.2,446.7 L826.9,468.9 L831.1,491.1 L836.7,507.8 L842.2,524.4 L847.8,535.6 L853.3,541.1 L861.7,546.7 L870.0,552.2 L881.1,557.8 L892.2,563.3 L903.3,566.1 L914.4,552.2 L919.4,550.0 L926.4,525.0 L930.6,523.6 L934.7,530.6 L938.9,550.0 L943.1,572.2 L947.2,594.4 L951.4,600.0 L955.6,594.4 L959.7,580.6 L963.9,566.7 L968.1,550.0 L972.2,533.3 L975.0,511.1 L979.2,497.2 L981.9,505.6 L983.3,516.7 L988.9,544.4 L997.2,572.2 L1005.6,588.9 L1011.1,594.4 L1016.7,611.1 L1022.2,594.4 L1026.4,577.8 L1030.6,563.9 L1034.7,555.6 L1038.9,550.0 L1043.1,541.7 L1047.2,536.1 L1050.0,544.4 L1052.8,566.7 L1055.6,594.4 L1058.3,616.7 L1063.9,622.2 L1072.2,611.1 L1080.6,594.4 L1088.9,577.8 L1094.4,569.4 L1098.6,572.2 L1102.8,583.3 L1106.9,594.4 L1111.1,605.6 L1116.7,606.9 L1122.2,605.0 L1127.8,606.9 L1133.3,611.1 L1138.9,613.9 L1143.1,619.4 L1147.2,611.1 L1151.4,591.7 L1155.6,572.2 L1159.7,550.0 L1163.9,527.8 L1168.1,511.1 L1172.2,495.8 L1175.0,491.7 L1174.9,491.1 L1178.8,500.3 L1182.8,513.5 L1186.7,529.4 L1190.7,547.9 L1194.7,563.7 L1198.6,574.3 L1202.6,584.8 L1207.9,595.4 L1213.2,603.3 L1218.4,592.8 L1223.7,584.8 L1229.0,590.1 L1233.0,596.7 L1236.9,590.1 L1242.2,582.2 L1247.5,590.1 L1251.4,598.0 L1255.4,606.0 L1259.4,611.2 L1263.3,624.5 L1267.3,637.7 L1271.2,632.4 L1276.5,616.5 L1283.1,592.8 L1289.7,571.6 L1293.7,561.1 L1297.7,542.6 L1301.6,537.3 L1305.6,542.6 L1309.5,526.7 L1313.5,510.9 L1317.5,505.6 L1321.4,508.3 L1325.4,500.3 L1329.3,496.4 L1334.6,504.3 L1339.9,513.5 L1345.2,526.7 L1350.5,537.3 L1355.7,555.8 L1359.7,571.6 L1363.7,553.2 L1366.3,542.6" stroke="#f7b6d2" stroke-width="1.6" stroke-linecap="square"/>
<path d="M140.5,524.5 L142.6,507.7 L145.7,476.3 L148.9,444.8 L152.0,419.7 L155.2,398.7 L158.3,386.1 L161.4,377.7 L165.6,365.2 L169.8,356.8 L174.0,349.4 L178.2,346.3 L182.4,348.4 L186.6,352.6 L190.8,356.8 L193.9,363.1 L197.1,371.4 L200.2,381.9 L202.3,398.7 L204.4,419.7 L206.5,440.6 L208.6,457.4 L211.8,470.0 L214.9,476.3 L218.1,474.2 L221.2,470.0 L223.3,476.3 L226.4,495.1 L228.5,511.9 L230.6,528.7 L232.7,540.0 L239.7,560.0 L243.9,587.8 L248.1,604.4 L253.6,596.1 L256.4,576.7 L257.8,560.0 L266.3,522.4 L269.4,499.3 L272.6,474.2 L274.7,453.2 L276.8,432.2 L278.8,417.6 L280.9,409.2 L283.0,407.1 L286.2,423.9 L289.3,444.8 L292.5,461.6 L295.6,474.2 L298.8,484.7 L301.9,465.8 L305.1,440.6 L308.2,415.5 L311.3,394.5 L314.5,377.7 L317.6,361.0 L320.8,346.3 L323.9,334.5 L328.1,315.6 L332.3,296.8 L336.5,282.1 L340.7,273.7 L345.9,269.9 L351.2,271.6 L356.4,273.3 L360.6,272.6 L364.8,269.9 L369.0,272.6 L373.2,280.0 L377.4,290.5 L383.7,300.9 L390.0,311.4 L394.2,321.9 L398.3,338.7 L401.5,350.0 L404.6,356.8 L407.8,373.5 L412.0,390.3 L416.2,400.8 L420.4,405.0 L424.5,406.0 L430.0,402.9 L435.6,421.7 L443.9,427.2 L452.2,441.1 L460.6,449.4 L468.9,452.2 L477.2,449.4 L485.6,435.6 L491.1,413.3 L496.7,385.6 L498.6,377.8 L501.4,361.1 L504.2,354.2 L506.9,355.6 L509.7,366.7 L512.5,386.1 L515.3,405.6 L516.7,415.0 L524.2,446.7 L528.3,463.3 L532.5,477.2 L536.7,485.6 L540.8,474.4 L545.0,460.6 L553.3,441.1 L561.7,421.7 L570.0,399.4 L575.6,374.4 L579.7,357.8 L583.9,353.6 L588.1,356.4 L592.2,366.1 L597.8,385.6 L603.3,413.3 L608.9,435.6 L614.4,449.4 L620.0,460.6 L625.6,468.9 L631.1,480.0 L636.7,485.6 L642.2,480.0 L647.8,474.4 L653.3,480.0 L658.9,485.6 L664.4,491.1 L670.0,496.7 L675.6,502.2 L681.1,510.6 L686.7,513.3 L692.2,507.8 L697.8,510.6 L703.3,516.1 L708.9,521.7 L714.4,535.6 L718.6,552.2 L722.8,566.1 L722.8,565.6 L725.6,568.3 L728.3,580.8 L732.5,578.1 L735.3,593.3 L739.4,603.1 L743.6,602.2 L747.8,605.8 L751.9,611.4 L754.7,623.9 L757.5,640.6 L760.3,630.8 L763.1,646.1 L767.2,648.9 L771.4,646.1 L774.2,641.9 L776.9,644.7 L779.7,615.6 L782.5,596.1 L785.3,585.0 L787.2,580.0 L790.8,587.8 L795.0,596.1 L799.2,603.1 L803.3,609.4 L807.5,607.2 L811.1,601.1 L813.9,623.3 L815.8,610.0 L820.0,608.6 L825.6,606.7 L831.1,625.3 L836.7,622.5 L839.4,610.0 L842.2,587.8 L844.4,568.3 L846.4,560.0 L850.6,552.2 L857.5,549.4 L864.4,555.0 L872.8,560.6 L881.1,566.1 L892.2,571.7 L903.3,580.0 L905.6,615.6 L916.7,626.7 L919.4,643.3 L923.6,646.1 L927.8,648.9 L930.6,655.8 L933.3,632.2 L937.5,635.0 L944.4,637.8 L952.8,643.3 L961.1,640.6 L969.4,635.0 L980.6,629.4 L983.3,619.7 L987.5,618.3 L991.7,626.7 L995.8,648.9 L1000.0,671.1 L1005.6,682.2 L1013.9,687.8 L1022.2,690.6 L1030.6,691.9 L1038.9,693.3 L1041.7,704.4 L1045.8,718.3 L1048.6,723.9 L1051.4,715.6 L1054.2,711.4 L1056.9,714.2 L1059.7,723.9 L1063.9,718.3 L1066.7,704.4 L1070.8,701.7 L1075.0,690.6 L1079.2,679.4 L1083.3,693.3 L1086.1,707.2 L1088.9,719.7 L1093.1,726.7 L1097.2,729.4 L1100.0,737.8 L1100.0,728.9 L1102.4,743.1 L1104.7,757.2 L1107.1,760.8 L1109.4,745.4 L1111.8,736.0 L1114.2,747.8 L1116.5,752.5 L1118.9,745.4 L1121.3,750.2 L1123.6,754.9 L1126.0,745.4 L1128.3,738.3 L1131.9,736.0 L1135.4,732.4 L1139.0,736.0 L1141.3,743.1 L1144.9,741.9 L1148.4,736.0 L1150.8,724.2 L1154.3,721.3 L1159.0,720.6 L1163.8,721.8 L1167.3,726.5 L1170.8,719.5 L1174.4,713.6 L1177.9,721.8 L1181.5,728.9 L1185.0,726.5 L1188.5,721.8 L1192.1,720.6 L1194.5,724.2 L1196.8,714.7 L1200.4,705.3 L1203.9,702.9 L1205.1,681.7 L1207.4,658.1 L1209.8,646.3 L1212.2,634.5 L1214.5,620.3 L1216.9,612.0 L1220.4,610.8 L1224.0,617.9 L1227.5,629.7 L1231.1,634.5 L1234.6,636.8 L1238.1,651.0 L1241.7,662.8 L1245.2,672.2 L1248.8,679.3 L1252.3,691.1 L1255.8,700.6 L1258.7,704.1 L1260.6,691.1 L1262.9,672.2 L1265.3,653.3 L1268.8,634.5 L1271.2,617.9 L1274.7,608.5 L1278.3,602.6 L1281.8,600.2 L1285.4,601.4 L1287.7,610.8 L1291.3,601.4 L1293.6,587.2 L1297.2,575.4 L1300.7,570.7 L1304.3,568.3 L1307.8,561.3 L1311.3,563.6 L1314.9,556.5 L1318.4,549.4 L1322.0,540.0 L1324.1,537.3 L1328.0,534.7 L1332.0,537.3 L1335.9,547.9 L1338.6,563.7 L1341.2,584.8 L1345.2,603.3 L1349.1,624.5 L1353.1,629.7 L1355.7,625.8 L1358.4,642.9 L1358.6,639.2 L1360.9,658.1 L1363.3,668.7 L1364.9,660.4 L1366.8,653.3" stroke="#c7c7c7" stroke-width="1.6" stroke-linecap="square"/>
<path d="M140.6,662.8 L143.9,660.0 L147.2,651.7 L148.9,615.6 L150.8,573.9 L151.7,560.0 L155.2,518.2 L158.3,495.1 L161.4,474.2 L164.6,459.5 L168.8,450.1 L171.9,448.0 L175.1,454.3 L177.2,467.9 L180.3,490.9 L182.4,507.7 L184.5,518.2 L187.7,528.7 L191.8,535.0 L196.0,528.7 L200.2,511.9 L203.4,499.3 L207.6,490.9 L211.8,484.7 L216.0,479.4 L220.1,476.3 L224.3,474.2 L228.5,472.1 L232.7,476.3 L235.9,486.8 L238.0,495.1 L241.1,490.9 L244.3,486.8 L247.4,490.9 L251.6,499.3 L255.8,507.7 L260.0,514.0 L264.2,520.3 L268.4,526.6 L272.6,527.6 L276.8,524.5 L280.9,531.8 L285.1,530.8 L289.3,532.9 L293.5,531.8 L295.6,524.5 L297.7,522.4 L300.9,503.5 L304.0,482.6 L308.2,457.4 L312.4,432.2 L316.6,411.3 L320.8,396.6 L325.0,387.2 L328.1,384.0 L331.3,390.3 L334.4,402.9 L337.5,417.6 L340.7,432.2 L343.8,442.7 L345.9,446.9 L348.0,432.2 L351.2,409.2 L354.3,386.1 L357.5,367.3 L360.6,352.6 L362.7,340.0 L365.8,328.2 L369.0,315.6 L370.0,308.3 L373.2,314.6 L376.3,321.9 L379.5,332.4 L382.6,345.0 L383.7,350.0 L385.8,361.0 L388.9,392.4 L392.1,423.9 L394.2,444.8 L397.3,470.0 L400.4,490.9 L403.6,507.7 L406.7,518.2 L410.9,524.5 L415.1,526.6 L418.3,520.3 L421.4,503.5 L423.5,486.8 L425.6,465.8 L427.7,444.8 L429.2,355.6 L431.9,333.3 L434.7,323.6 L438.9,320.8 L443.1,325.0 L445.8,336.1 L450.0,347.2 L454.2,355.6 L458.3,366.7 L462.5,372.2 L466.7,380.6 L470.8,388.9 L475.0,400.0 L479.2,415.0 L481.4,441.1 L485.6,468.9 L489.7,491.1 L493.9,507.8 L498.1,521.7 L502.2,530.0 L506.4,541.1 L510.6,552.2 L513.3,535.6 L517.5,541.1 L521.7,552.2 L525.8,552.2 L530.0,549.4 L532.5,535.6 L535.3,546.7 L538.1,538.3 L542.2,535.6 L547.8,534.2 L551.9,521.7 L554.7,518.9 L557.5,505.0 L561.7,503.6 L565.8,493.9 L568.6,477.2 L571.4,460.6 L575.6,449.4 L579.7,448.1 L585.3,448.1 L589.4,446.7 L593.6,452.2 L597.8,457.8 L601.9,463.3 L606.1,468.9 L610.3,474.4 L613.1,485.6 L615.8,499.4 L618.6,507.8 L621.4,524.4 L624.2,541.1 L626.9,552.2 L629.7,566.1 L635.3,576.7 L639.4,587.8 L642.2,603.1 L647.8,604.4 L653.3,614.2 L658.9,623.9 L664.4,632.2 L668.6,639.2 L672.8,651.7 L678.3,665.6 L683.3,678.9 L686.7,671.9 L690.0,689.2 L693.6,690.6 L696.4,683.6 L700.6,690.6 L703.3,693.3 L706.1,690.6 L710.3,688.3 L714.4,676.7 L717.2,673.3 L719.4,704.4 L722.8,701.1 L726.9,705.8 L731.1,705.8 L733.9,693.3 L736.7,678.9 L740.8,678.9 L745.0,675.3 L747.8,665.6 L750.6,653.1 L753.3,660.0 L756.1,646.1 L758.9,623.9 L760.3,616.9 L765.8,610.0 L770.0,601.7 L772.8,615.6 L775.6,629.4 L778.3,640.6 L782.5,648.9 L786.7,650.3 L790.8,671.1 L795.0,679.4 L797.8,685.8 L804.7,685.8 L807.5,671.1 L811.1,654.4 L814.4,653.9 L815.8,615.6 L817.2,583.6 L821.4,583.6 L824.2,605.8 L826.9,621.1 L831.1,621.1 L834.4,654.4 L838.1,655.0 L842.2,662.8 L845.0,673.9 L853.3,673.9 L861.7,673.9 L864.4,657.2 L867.2,646.1 L871.4,643.3 L873.3,615.6 L874.2,594.7 L881.1,593.9 L885.3,601.7 L889.4,615.6 L892.2,622.5 L895.0,615.6 L897.8,637.8 L908.9,638.3 L910.3,615.6 L910.6,610.0 L913.9,587.8 L916.7,580.8 L920.8,579.4 L925.0,587.8 L929.2,607.2 L933.3,623.9 L935.6,626.7 L936.1,685.0 L940.3,686.4 L941.7,676.7 L945.8,671.1 L951.4,657.2 L954.2,654.4 L958.3,676.7 L961.1,696.1 L970.8,696.1 L972.2,726.7 L979.2,726.7 L983.3,746.1 L988.9,747.5 L997.2,745.6 L1004.2,745.6 L1006.9,726.7 L1011.1,714.2 L1018.1,715.6 L1020.8,726.7 L1027.8,743.3 L1036.1,744.7 L1038.9,759.4 L1050.0,759.4 L1052.8,743.3 L1056.9,735.0 L1063.9,733.6 L1066.7,722.5 L1073.6,722.5 L1076.4,743.3 L1080.6,739.2 L1083.3,740.6 L1085.6,757.8 L1094.4,757.2 L1100.0,760.6 L1100.0,760.8 L1107.1,758.4 L1114.2,758.4 L1121.3,757.2 L1123.6,736.0 L1127.2,730.1 L1130.7,736.0 L1137.8,736.0 L1144.9,736.0 L1147.2,726.5 L1150.8,735.5 L1159.0,735.5 L1168.5,735.5 L1169.7,705.3 L1170.8,673.4 L1174.4,674.6 L1181.5,674.6 L1183.8,681.7 L1186.2,686.4 L1194.5,685.9 L1206.3,685.9 L1215.7,685.9 L1216.9,705.3 L1219.2,726.5 L1222.3,736.0 L1231.1,736.0 L1233.4,719.5 L1235.8,702.9 L1239.3,688.8 L1242.9,679.3 L1245.2,671.1 L1255.8,671.1 L1257.7,681.7 L1259.4,693.5 L1262.9,695.8 L1267.7,704.1 L1272.4,704.8 L1286.5,704.8 L1290.1,695.8 L1292.4,692.3 L1305.4,692.3 L1307.8,679.3 L1309.0,673.4 L1312.5,674.6 L1316.1,668.7 L1326.7,668.7 L1336.1,668.7 L1338.5,655.7 L1340.9,641.5 L1343.2,628.5 L1346.8,634.5 L1350.3,635.6 L1353.8,643.9 L1357.4,653.3 L1360.9,660.4 L1366.8,659.2" stroke="#bcbd22" stroke-width="1.6" stroke-linecap="square"/>
<path d="M139.7,466.1 L143.9,449.4 L149.4,432.8 L155.0,424.4 L160.6,423.1 L166.1,428.6 L171.7,439.7 L178.6,450.8 L186.9,459.2 L192.5,452.2 L199.4,441.1 L205.0,438.3 L211.9,442.5 L220.3,452.2 L230.0,463.3 L241.1,471.7 L252.2,480.0 L263.3,468.9 L274.4,441.1 L281.4,434.2 L288.3,436.9 L295.3,446.7 L303.6,455.0 L310.6,446.7 L318.9,424.4 L324.4,402.2 L331.4,385.6 L338.3,371.7 L346.7,357.8 L355.0,348.1 L363.3,343.3 L371.7,343.9 L380.0,349.4 L388.3,357.8 L396.7,371.7 L405.0,382.8 L413.3,393.9 L421.7,398.1 L430.0,395.3 L438.3,389.7 L446.7,382.8 L453.6,377.2 L463.3,371.7 L471.7,368.9 L480.0,375.8 L488.3,368.9 L496.7,371.7 L505.0,388.3 L513.3,399.4 L521.7,403.6 L530.0,405.0 L536.7,391.1 L543.6,374.4 L550.6,368.9 L557.5,371.7 L571.4,371.7 L579.7,374.4 L588.1,381.4 L596.4,392.5 L606.1,402.2 L614.4,410.6 L622.8,421.7 L631.1,432.8 L639.4,441.1 L647.8,442.5 L654.7,436.9 L661.7,443.9 L670.0,455.0 L678.3,463.3 L686.7,471.7 L695.0,481.4 L703.3,486.9 L711.7,488.3 L720.0,489.7 L728.3,481.4 L735.3,470.3 L742.2,459.2 L750.6,452.2 L758.9,448.1 L767.2,448.1 L775.6,452.2 L783.9,460.6 L792.2,471.7 L800.6,481.4 L808.9,488.3 L817.2,499.4 L825.6,510.6 L833.9,521.7 L842.2,530.0 L850.6,538.3 L858.9,545.3 L867.2,555.0 L874.2,566.1 L881.1,578.6 L889.4,585.6 L897.8,588.3 L908.3,591.7 L916.7,594.4 L926.4,598.6 L936.1,601.4 L945.8,606.9 L955.6,611.1 L963.9,608.3 L969.4,602.8 L976.4,606.9 L986.1,611.1 L995.8,613.3 L1005.6,609.7 L1013.9,608.3 L1022.2,613.3 L1033.3,619.4 L1044.4,613.9 L1055.6,619.4 L1063.9,618.1 L1072.2,613.9 L1080.6,606.9 L1088.9,605.0 L1097.2,606.9 L1105.6,612.5 L1113.9,611.1 L1122.2,606.9 L1130.6,609.7 L1138.9,616.7 L1147.2,615.3 L1155.6,605.6 L1163.9,591.7 L1170.8,580.6 L1176.4,573.6 L1183.3,576.4 L1191.7,577.8 L1200.0,573.6 L1208.3,575.0 L1216.7,580.6 L1225.0,581.9 L1233.3,576.4 L1241.7,573.6 L1250.0,576.4 L1258.3,572.2 L1263.9,563.9 L1264.6,566.4 L1271.2,553.2 L1279.2,543.9 L1287.1,540.0 L1295.0,534.7 L1302.9,534.7 L1310.9,537.3 L1318.8,534.7 L1326.7,526.7 L1333.3,516.2 L1339.9,504.3 L1347.8,496.4 L1355.7,495.1 L1361.0,489.8 L1363.7,479.2 L1366.3,472.6" stroke="#808080" stroke-width="4.7" stroke-dasharray="18.2 8.6" stroke-linecap="butt"/>
</g>
<g stroke-linejoin="round">
<g opacity="0.17" fill="#3282af" stroke="#3282af" font-size="138" stroke-width="6.5">
<text x="405" y="435.5" textLength="81" lengthAdjust="spacingAndGlyphs">e</text><text x="486" y="435.5" textLength="62" lengthAdjust="spacingAndGlyphs">v</text><text x="547" y="435.5" textLength="75" lengthAdjust="spacingAndGlyphs">e</text><text x="630" y="435.5" textLength="52" lengthAdjust="spacingAndGlyphs">r</text>
</g>
<g opacity="0.15" fill="#f5a046" stroke="#f5a046" font-size="150" stroke-width="0.6">
<text x="686" y="436" textLength="58" lengthAdjust="spacingAndGlyphs">s</text><text x="754" y="436" textLength="39" lengthAdjust="spacingAndGlyphs">t</text><text x="794.5" y="436" textLength="54" lengthAdjust="spacingAndGlyphs">r</text><text x="846.5" y="436" textLength="80" lengthAdjust="spacingAndGlyphs">e</text><text x="921.5" y="436" textLength="73" lengthAdjust="spacingAndGlyphs">a</text><text x="992" y="436" textLength="112" lengthAdjust="spacingAndGlyphs">m</text>
</g>
</g>
<g opacity="0.165" font-size="50" fill="#a0a0a0" stroke="#a0a0a0" stroke-width="1.5">
<text x="414" y="497">A</text><text x="466" y="497" textLength="32" lengthAdjust="spacingAndGlyphs">N</text><text x="524" y="497">A</text><text x="585" y="497" textLength="24" lengthAdjust="spacingAndGlyphs">L</text><text x="626" y="497">Y</text><text x="678" y="497" textLength="27" lengthAdjust="spacingAndGlyphs">T</text><text x="720" y="497">I</text><text x="755" y="497" textLength="32" lengthAdjust="spacingAndGlyphs">C</text><text x="805" y="497" textLength="25" lengthAdjust="spacingAndGlyphs">S</text>
</g>

<g clip-path="url(#ax)" fill="none" stroke-linejoin="round">
<path d="M140.6,660.0 L141.7,629.4 L143.3,587.8 L145.7,540.0 L148.9,507.7 L153.1,482.6 L157.3,467.9 L161.4,460.5 L164.6,461.2 L168.8,467.9 L170.3,470.2 L176.5,490.3 L180.3,513.0 L184.0,533.0 L185.9,553.0 L187.9,576.0 L189.9,593.5 L191.6,596.5 L192.9,581.0 L194.2,553.0 L195.9,523.0 L197.9,490.3 L199.9,467.7 L201.7,458.9 L205.5,457.6 L205.5,434.3 L207.6,409.2 L210.7,390.3 L214.9,375.6 L219.1,366.2 L223.3,362.6 L226.9,362.6 L230.6,367.3 L234.8,377.7 L238.0,394.5 L241.1,415.5 L244.3,438.5 L246.4,457.4 L249.5,476.3 L253.7,497.2 L256.8,507.7 L260.6,502.2 L264.7,480.0 L268.9,460.6 L277.2,452.2 L281.4,471.7 L285.6,493.9 L289.7,513.3 L292.5,527.2 L296.7,524.4 L300.8,535.6 L305.0,546.7 L309.2,556.4 L311.9,561.9 L314.7,557.8 L318.9,546.7 L323.1,530.0 L327.2,516.1 L330.0,511.9 L334.2,516.1 L338.3,507.8 L342.5,499.4 L346.7,495.3 L352.2,495.3 L356.4,485.6 L361.9,471.7 L366.1,466.1 L370.3,465.6 L374.4,471.7 L378.6,485.6 L382.8,502.2 L386.8,538.5 L391.0,565.8 L395.0,599.0 L399.7,614.0 L402.5,603.5 L405.6,586.8 L409.8,577.0 L415.0,584.7 L420.3,590.0 L423.4,570.0 L425.5,540.6 L427.6,509.0 L428.6,485.6 L432.8,446.7 L436.9,418.9 L441.1,399.4 L446.7,385.6 L452.2,378.6 L457.8,375.8 L463.3,377.2 L468.9,381.4 L473.1,382.8 L477.2,378.6 L481.4,374.4 L485.6,371.7 L489.7,374.4 L493.9,382.8 L496.7,396.7 L499.4,418.9 L502.2,446.7 L505.0,474.4 L507.8,502.2 L511.1,518.9 L514.7,496.7 L517.5,468.9 L521.7,443.9 L525.8,442.5 L528.6,430.0 L528.3,430.0 L532.5,435.6 L536.7,421.7 L540.8,396.7 L545.0,368.9 L549.2,343.9 L551.9,330.0 L555.0,313.9 L558.9,316.1 L564.4,330.0 L570.0,343.9 L575.6,363.3 L579.7,377.2 L583.9,393.9 L588.1,405.0 L592.2,418.9 L596.4,427.2 L599.2,430.0 L601.9,413.3 L606.1,388.3 L610.3,374.4 L615.8,366.1 L621.4,371.7 L625.6,385.6 L629.7,402.2 L633.9,421.7 L639.4,441.1 L645.0,452.2 L650.6,460.6 L656.1,474.4 L660.3,496.7 L664.4,513.3 L668.6,524.4 L672.8,538.3 L675.6,541.1 L678.3,546.7 L681.1,557.8 L685.3,555.0 L689.4,560.6 L693.6,584.2 L696.4,573.1 L699.2,577.2 L701.9,566.1 L706.1,555.0 L710.3,563.3 L713.1,570.3 L715.8,557.8 L720.0,557.8 L724.2,546.7 L728.3,541.1 L732.5,535.6 L735.3,507.8 L739.4,485.6 L745.0,468.9 L750.6,460.6 L756.1,455.0 L761.7,452.2 L765.8,460.6 L770.0,468.9 L774.2,480.0 L778.3,471.7 L782.5,466.1 L786.7,474.4 L790.8,493.9 L795.0,496.7 L799.2,513.3 L803.3,521.7 L807.5,518.9 L811.7,510.6 L815.8,524.4 L820.0,535.6 L824.2,532.8 L828.3,538.3 L832.5,530.0 L836.7,528.6 L840.8,546.7 L846.4,566.1 L851.9,585.6 L853.3,589.2 L856.1,586.4 L858.9,607.2 L861.7,626.7 L865.8,626.7 L868.6,621.1 L872.2,622.5 L874.2,643.3 L876.9,646.7 L881.1,646.7 L885.3,654.4 L888.1,657.2 L890.8,640.6 L893.6,636.4 L897.8,636.4 L901.9,648.9 L906.1,662.8 L910.3,676.7 L914.4,686.4 L918.6,690.0 L919.4,690.6 L927.8,690.6 L931.9,696.1 L934.7,704.4 L937.5,693.3 L941.7,689.2 L945.8,698.9 L950.0,701.7 L952.8,712.8 L955.6,703.1 L958.3,710.0 L961.7,723.9 L965.3,707.2 L969.4,703.1 L972.2,696.1 L975.0,704.4 L979.2,712.2 L981.9,704.4 L986.1,712.2 L993.1,712.2 L994.4,698.9 L995.8,686.4 L1002.8,686.4 L1004.2,698.9 L1006.9,721.1 L1009.7,712.8 L1012.5,719.7 L1015.3,710.0 L1018.1,718.3 L1019.4,735.6 L1027.8,735.6 L1036.1,735.6 L1036.7,698.9 L1037.5,657.2 L1038.9,615.6 L1040.3,573.9 L1041.7,560.0 L1042.2,563.9 L1045.8,556.9 L1048.6,561.1 L1051.4,572.2 L1054.2,588.9 L1056.9,605.6 L1059.7,622.2 L1062.5,636.1 L1065.3,638.9 L1068.1,637.5 L1070.0,648.6 L1077.8,649.2 L1086.1,649.2 L1093.1,649.2 L1094.4,671.1 L1096.7,690.6 L1099.4,696.1 L1102.8,710.0 L1106.9,715.6 L1111.1,714.2 L1115.3,718.3 L1119.4,719.7 L1123.6,715.6 L1126.4,712.2 L1129.2,721.1 L1133.3,733.6 L1137.5,730.8 L1141.7,730.8 L1144.4,729.4 L1147.2,721.1 L1150.0,726.7 L1154.2,730.0 L1158.3,732.2 L1161.1,730.8 L1163.9,740.0 L1168.1,729.4 L1170.8,732.2 L1174.4,739.2 L1175.1,739.5 L1177.4,728.9 L1179.1,714.7 L1180.8,691.1 L1182.6,658.1 L1184.5,629.7 L1186.9,599.0 L1189.3,583.7 L1192.1,579.0 L1194.5,583.7 L1196.8,575.4 L1199.2,563.6 L1201.5,549.4 L1203.9,570.7 L1206.3,591.9 L1208.1,603.8 L1210.5,591.9 L1213.3,583.7 L1216.9,580.1 L1219.2,582.5 L1221.6,601.4 L1224.0,620.3 L1226.3,629.7 L1229.4,636.8 L1232.2,642.7 L1235.8,641.5 L1239.3,647.4 L1242.9,651.0 L1248.8,650.5 L1251.1,634.5 L1253.0,630.9 L1255.8,633.3 L1260.6,632.6 L1262.9,627.4 L1267.7,626.2 L1272.4,627.4 L1274.7,634.5 L1277.1,646.3 L1280.6,662.8 L1284.2,679.3 L1287.7,693.5 L1290.1,702.9 L1293.6,704.1 L1296.0,706.5 L1298.3,698.2 L1301.9,681.7 L1304.3,667.5 L1306.6,655.7 L1310.2,639.2 L1313.7,627.4 L1316.1,620.3 L1318.4,599.0 L1320.8,575.4 L1323.1,561.3 L1326.2,561.3 L1327.9,547.1 L1329.0,540.0 L1330.7,500.3 L1333.3,487.1 L1335.9,484.5 L1339.4,485.8 L1342.5,495.1 L1345.2,510.9 L1347.8,532.0 L1350.5,550.5 L1353.1,569.0 L1355.7,584.8 L1357.1,588.8 L1358.4,584.8 L1360.5,582.2" stroke="#ff0000" stroke-width="2.85" stroke-linecap="square"/>
<path d="M136.9,507.8 L142.5,498.9 L146.7,503.6 L150.8,510.0 L155.0,505.0 L157.8,496.7 L161.9,496.1 L166.1,502.2 L170.3,516.1 L175.8,528.6 L180.0,538.3 L182.8,555.0 L182.8,587.8 L186.9,610.0 L192.5,625.3 L198.1,630.8 L202.8,626.7 L204.4,587.8 L211.1,580.8 L214.7,596.1 L218.9,615.6 L221.7,632.2 L223.9,662.8 L228.6,658.6 L234.2,666.9 L238.3,657.2 L241.1,629.4 L243.9,601.7 L246.7,573.9 L248.1,560.0 L248.1,543.9 L250.8,518.9 L255.0,493.9 L259.2,471.7 L263.3,455.0 L267.5,452.2 L273.1,450.8 L277.2,445.3 L280.0,434.2 L285.6,432.8 L291.1,410.6 L295.6,385.6 L299.7,357.8 L300.2,350.0 L301.1,332.4 L302.1,312.5 L304.0,309.3 L306.1,310.4 L307.8,299.9 L310.3,298.8 L314.5,301.4 L320.8,301.6 L326.0,301.4 L329.2,305.1 L333.4,315.6 L336.5,326.1 L339.6,338.7 L341.7,350.0 L345.3,385.6 L348.1,400.8 L350.8,401.7 L353.6,430.0 L356.4,457.8 L359.2,484.2 L366.1,484.7 L373.1,484.7 L374.4,496.7 L377.2,517.5 L381.4,521.7 L385.6,530.0 L388.3,536.9 L392.5,524.4 L395.3,493.9 L398.1,463.3 L400.8,450.0 L403.6,449.4 L405.0,421.7 L406.9,391.7 L409.2,405.0 L411.9,421.7 L416.1,441.1 L420.3,443.3 L423.1,463.3 L427.2,491.1 L431.4,507.8 L435.6,530.0 L439.7,546.7 L442.5,553.6 L446.7,546.7 L449.4,518.9 L452.2,485.6 L455.0,441.1 L457.8,385.6 L459.7,275.0 L462.5,241.7 L466.7,220.8 L472.2,211.4 L477.8,206.1 L483.3,204.2 L490.3,206.1 L497.2,213.9 L504.2,227.8 L511.1,247.2 L516.7,269.4 L522.2,294.4 L526.4,322.2 L530.6,350.0 L533.3,377.8 L537.5,415.0 L539.4,427.2 L545.0,439.7 L550.6,442.5 L554.7,435.6 L558.9,413.3 L563.1,391.1 L567.2,381.4 L572.8,380.0 L578.3,385.6 L583.9,399.4 L589.4,416.1 L595.0,432.8 L600.6,446.7 L606.1,455.0 L610.3,446.7 L614.4,432.8 L620.0,424.4 L625.6,430.0 L631.1,441.1 L636.7,455.0 L642.2,468.9 L647.8,474.4 L653.3,468.9 L660.3,457.8 L664.4,441.1 L668.6,425.8 L672.8,423.1 L675.6,435.6 L682.5,439.7 L689.4,435.6 L696.4,434.2 L700.6,441.1 L706.1,449.4 L711.7,441.1 L717.2,424.4 L721.4,413.3 L724.2,410.6 L728.3,416.1 L732.5,435.6 L736.7,463.3 L739.4,491.1 L742.2,510.6 L746.4,514.7 L751.9,507.8 L756.1,493.9 L760.3,484.2 L765.8,482.8 L770.0,491.1 L772.8,518.9 L775.6,543.9 L779.7,557.8 L783.9,566.1 L786.1,552.2 L788.1,546.7 L790.8,555.0 L795.0,557.8 L800.6,560.6 L804.7,549.4 L808.9,530.0 L814.4,510.6 L820.0,493.9 L825.6,481.4 L829.7,478.6 L833.9,485.6 L836.7,507.8 L838.9,535.6 L840.8,543.9 L845.0,535.6 L849.2,513.3 L853.3,493.9 L856.1,491.1 L860.3,510.6 L860.2,520.0 L864.0,531.3 L869.6,542.6 L874.3,555.8 L878.1,557.7 L881.9,554.9 L883.8,567.2 L888.5,570.0 L891.3,582.3 L894.2,599.2 L895.1,604.0 L897.0,595.5 L898.9,585.1 L902.6,587.0 L906.4,595.5 L910.2,604.9 L913.0,605.8 L915.8,590.8 L918.7,593.6 L922.5,603.0 L925.3,614.3 L929.1,622.8 L933.8,629.4 L936.6,632.3 L939.4,627.5 L942.3,620.0 L945.1,626.6 L947.9,627.5 L951.7,623.8 L953.6,629.4 L954.5,640.8 L956.4,647.4 L960.2,644.5 L963.0,650.2 L964.9,659.6 L966.8,665.3 L970.6,661.5 L973.4,669.1 L976.2,676.6 L979.1,686.0 L980.9,676.6 L982.8,670.0 L984.7,682.3 L986.6,687.0 L990.4,682.3 L996.0,680.4 L1001.7,679.4 L1006.4,680.4 L1010.0,684.2 L1011.1,693.3 L1015.3,701.7 L1019.4,707.2 L1022.2,718.3 L1026.4,725.3 L1030.6,715.6 L1033.3,704.4 L1036.1,696.1 L1040.3,687.8 L1044.4,685.0 L1047.2,665.6 L1050.0,650.3 L1052.8,655.8 L1055.0,671.1 L1056.9,693.3 L1058.3,712.2" stroke="#000" stroke-width="8.3" stroke-linecap="butt" stroke-linejoin="round"/>
</g>
<line x1="80.5" x2="1428" y1="711.9" y2="711.9" stroke="#a83636" stroke-width="1.75" stroke-dasharray="6.17 2.67"/>
<line x1="80" x2="1428.6" y1="40.1" y2="40.1" stroke="#d4d4d4" stroke-width="1.1"/>
<line x1="1428.05" x2="1428.05" y1="40" y2="881.5" stroke="#d4d4d4" stroke-width="1.1"/>
<line x1="80.05" x2="80.05" y1="40" y2="882" stroke="#000" stroke-width="1.15"/>
<line x1="79.5" x2="1428.5" y1="881.45" y2="881.45" stroke="#000" stroke-width="1.15"/>
<line x1="74.2" x2="80" y1="819.0" y2="819.0" stroke="#000" stroke-width="1.1"/>
<text x="66.8" y="826.7" font-size="21.3" text-anchor="end" fill="#000" textLength="12.8" lengthAdjust="spacingAndGlyphs">0</text>
<line x1="74.2" x2="80" y1="702.3" y2="702.3" stroke="#000" stroke-width="1.1"/>
<text x="66.8" y="710.0" font-size="21.3" text-anchor="end" fill="#000" textLength="25.6" lengthAdjust="spacingAndGlyphs">10</text>
<line x1="74.2" x2="80" y1="585.7" y2="585.7" stroke="#000" stroke-width="1.1"/>
<text x="66.8" y="593.4" font-size="21.3" text-anchor="end" fill="#000" textLength="25.6" lengthAdjust="spacingAndGlyphs">20</text>
<line x1="74.2" x2="80" y1="469.0" y2="469.0" stroke="#000" stroke-width="1.1"/>
<text x="66.8" y="476.7" font-size="21.3" text-anchor="end" fill="#000" textLength="25.6" lengthAdjust="spacingAndGlyphs">30</text>
<line x1="74.2" x2="80" y1="352.3" y2="352.3" stroke="#000" stroke-width="1.1"/>
<text x="66.8" y="360.0" font-size="21.3" text-anchor="end" fill="#000" textLength="25.6" lengthAdjust="spacingAndGlyphs">40</text>
<line x1="74.2" x2="80" y1="235.7" y2="235.7" stroke="#000" stroke-width="1.1"/>
<text x="66.8" y="243.4" font-size="21.3" text-anchor="end" fill="#000" textLength="25.6" lengthAdjust="spacingAndGlyphs">50</text>
<line x1="74.2" x2="80" y1="119.0" y2="119.0" stroke="#000" stroke-width="1.1"/>
<text x="66.8" y="126.7" font-size="21.3" text-anchor="end" fill="#000" textLength="25.6" lengthAdjust="spacingAndGlyphs">60</text>
<line x1="141.1" x2="141.1" y1="881.4" y2="887.6" stroke="#000" stroke-width="1.1"/>
<text x="141.1" y="910.3" font-size="21.3" text-anchor="middle" fill="#000" textLength="61.3" lengthAdjust="spacingAndGlyphs">01-01</text>
<line x1="245.4" x2="245.4" y1="881.4" y2="887.6" stroke="#000" stroke-width="1.1"/>
<text x="245.4" y="910.3" font-size="21.3" text-anchor="middle" fill="#000" textLength="61.3" lengthAdjust="spacingAndGlyphs">02-01</text>
<line x1="339.7" x2="339.7" y1="881.4" y2="887.6" stroke="#000" stroke-width="1.1"/>
<text x="339.7" y="910.3" font-size="21.3" text-anchor="middle" fill="#000" textLength="61.3" lengthAdjust="spacingAndGlyphs">03-01</text>
<line x1="444.0" x2="444.0" y1="881.4" y2="887.6" stroke="#000" stroke-width="1.1"/>
<text x="444.0" y="910.3" font-size="21.3" text-anchor="middle" fill="#000" textLength="61.3" lengthAdjust="spacingAndGlyphs">04-01</text>
<line x1="545.0" x2="545.0" y1="881.4" y2="887.6" stroke="#000" stroke-width="1.1"/>
<text x="545.0" y="910.3" font-size="21.3" text-anchor="middle" fill="#000" textLength="61.3" lengthAdjust="spacingAndGlyphs">05-01</text>
<line x1="649.4" x2="649.4" y1="881.4" y2="887.6" stroke="#000" stroke-width="1.1"/>
<text x="649.4" y="910.3" font-size="21.3" text-anchor="middle" fill="#000" textLength="61.3" lengthAdjust="spacingAndGlyphs">06-01</text>
<line x1="750.3" x2="750.3" y1="881.4" y2="887.6" stroke="#000" stroke-width="1.1"/>
<text x="750.3" y="910.3" font-size="21.3" text-anchor="middle" fill="#000" textLength="61.3" lengthAdjust="spacingAndGlyphs">07-01</text>
<line x1="854.7" x2="854.7" y1="881.4" y2="887.6" stroke="#000" stroke-width="1.1"/>
<text x="854.7" y="910.3" font-size="21.3" text-anchor="middle" fill="#000" textLength="61.3" lengthAdjust="spacingAndGlyphs">08-01</text>
<line x1="959.0" x2="959.0" y1="881.4" y2="887.6" stroke="#000" stroke-width="1.1"/>
<text x="959.0" y="910.3" font-size="21.3" text-anchor="middle" fill="#000" textLength="61.3" lengthAdjust="spacingAndGlyphs">09-01</text>
<line x1="1060.0" x2="1060.0" y1="881.4" y2="887.6" stroke="#000" stroke-width="1.1"/>
<text x="1060.0" y="910.3" font-size="21.3" text-anchor="middle" fill="#000" textLength="61.3" lengthAdjust="spacingAndGlyphs">10-01</text>
<line x1="1164.4" x2="1164.4" y1="881.4" y2="887.6" stroke="#000" stroke-width="1.1"/>
<text x="1164.4" y="910.3" font-size="21.3" text-anchor="middle" fill="#000" textLength="61.3" lengthAdjust="spacingAndGlyphs">11-01</text>
<line x1="1265.3" x2="1265.3" y1="881.4" y2="887.6" stroke="#000" stroke-width="1.1"/>
<text x="1265.3" y="910.3" font-size="21.3" text-anchor="middle" fill="#000" textLength="61.3" lengthAdjust="spacingAndGlyphs">12-01</text>
<line x1="1369.7" x2="1369.7" y1="881.4" y2="887.6" stroke="#000" stroke-width="1.1"/>
<text x="1369.7" y="910.3" font-size="21.3" text-anchor="middle" fill="#000" textLength="61.3" lengthAdjust="spacingAndGlyphs">01-01</text>
<text x="753.7" y="938" font-size="21" text-anchor="middle" fill="#000" textLength="49.2" lengthAdjust="spacingAndGlyphs">Date</text>
<text transform="translate(28.6,462) rotate(-90)" font-size="21" text-anchor="middle" fill="#000" textLength="159.4" lengthAdjust="spacingAndGlyphs">River Level (ft)</text>
<text x="80" y="29.5" font-size="23" font-weight="bold" fill="#000" textLength="482" lengthAdjust="spacingAndGlyphs">River Levels at Cairo, IL (Ohio River)</text>
<text x="1413.5" y="29" font-size="19.5" text-anchor="end" fill="#000" textLength="115" lengthAdjust="spacingAndGlyphs">Oct-01-2025</text>
<text x="1414.2" y="198.3" font-size="14" text-anchor="end" fill="#8a8ac4" textLength="120.8" lengthAdjust="spacingAndGlyphs">Major Flood Stage</text>
<text x="1414.2" y="268.1" font-size="14" text-anchor="end" fill="#8a8ac4" textLength="147.2" lengthAdjust="spacingAndGlyphs">Moderate Flood Stage</text>
<text x="1414.2" y="350.2" font-size="14" text-anchor="end" fill="#8a8aff" textLength="120.8" lengthAdjust="spacingAndGlyphs">Minor Flood Stage</text>
<text x="1413.6" y="709" font-size="14" text-anchor="end" fill="#d99a9a" textLength="64.5" lengthAdjust="spacingAndGlyphs">Low Level</text>
<rect x="101.7" y="737" width="349.7" height="126.6" rx="3.5" ry="3.5" fill="#fff" fill-opacity="0.8" stroke="#cccccc" stroke-width="1.3"/>
<line x1="107.2" x2="142.5" y1="750.3" y2="750.3" stroke="#1f77b4" stroke-width="1.55" stroke-linecap="butt"/>
<text x="155.0" y="756.1" font-size="16" fill="#000" textLength="42" lengthAdjust="spacingAndGlyphs">2013</text>
<line x1="107.2" x2="142.5" y1="774.8" y2="774.8" stroke="#aec7e8" stroke-width="1.55" stroke-linecap="butt"/>
<text x="155.0" y="780.6" font-size="16" fill="#000" textLength="42" lengthAdjust="spacingAndGlyphs">2014</text>
<line x1="107.2" x2="142.5" y1="799.3" y2="799.3" stroke="#ffbb78" stroke-width="1.55" stroke-linecap="butt"/>
<text x="155.0" y="805.1" font-size="16" fill="#000" textLength="42" lengthAdjust="spacingAndGlyphs">2015</text>
<line x1="107.2" x2="142.5" y1="823.8" y2="823.8" stroke="#98df8a" stroke-width="1.55" stroke-linecap="butt"/>
<text x="155.0" y="829.6" font-size="16" fill="#000" textLength="42" lengthAdjust="spacingAndGlyphs">2016</text>
<line x1="107.2" x2="142.5" y1="848.2" y2="848.2" stroke="#d62728" stroke-width="1.55" stroke-linecap="butt"/>
<text x="155.0" y="854.0" font-size="16" fill="#000" textLength="42" lengthAdjust="spacingAndGlyphs">2017</text>
<line x1="230.8" x2="265.6" y1="750.3" y2="750.3" stroke="#9467bd" stroke-width="1.55" stroke-linecap="butt"/>
<text x="278.6" y="756.1" font-size="16" fill="#000" textLength="42" lengthAdjust="spacingAndGlyphs">2018</text>
<line x1="230.8" x2="265.6" y1="774.8" y2="774.8" stroke="#8c564b" stroke-width="1.55" stroke-linecap="butt"/>
<text x="278.6" y="780.6" font-size="16" fill="#000" textLength="42" lengthAdjust="spacingAndGlyphs">2019</text>
<line x1="230.8" x2="265.6" y1="799.3" y2="799.3" stroke="#c49c94" stroke-width="1.55" stroke-linecap="butt"/>
<text x="278.6" y="805.1" font-size="16" fill="#000" textLength="42" lengthAdjust="spacingAndGlyphs">2020</text>
<line x1="230.8" x2="265.6" y1="823.8" y2="823.8" stroke="#f7b6d2" stroke-width="1.55" stroke-linecap="butt"/>
<text x="278.6" y="829.6" font-size="16" fill="#000" textLength="42" lengthAdjust="spacingAndGlyphs">2021</text>
<line x1="230.8" x2="265.6" y1="848.2" y2="848.2" stroke="#c7c7c7" stroke-width="1.55" stroke-linecap="butt"/>
<text x="278.6" y="854.0" font-size="16" fill="#000" textLength="42" lengthAdjust="spacingAndGlyphs">2022</text>
<line x1="354.3" x2="389.5" y1="750.3" y2="750.3" stroke="#bcbd22" stroke-width="1.55" stroke-linecap="butt"/>
<text x="402.0" y="756.1" font-size="16" fill="#000" textLength="42" lengthAdjust="spacingAndGlyphs">2023</text>
<line x1="354.3" x2="389.5" y1="774.8" y2="774.8" stroke="#ff0000" stroke-width="2.4" stroke-linecap="butt"/>
<text x="402.0" y="780.6" font-size="16" fill="#000" textLength="42" lengthAdjust="spacingAndGlyphs">2024</text>
<line x1="350.8" x2="393.0" y1="799.3" y2="799.3" stroke="#000" stroke-width="8.3"/>
<text x="402.0" y="805.1" font-size="16" fill="#000" textLength="42" lengthAdjust="spacingAndGlyphs">2025</text>
<line x1="355.0" x2="389.2" y1="823.8" y2="823.8" stroke="#808080" stroke-width="4.9" stroke-dasharray="18.9 8.1"/>
<text x="402.0" y="829.6" font-size="16" fill="#000" textLength="34" lengthAdjust="spacingAndGlyphs">AVG</text>
<rect x="1146.4" y="798.7" width="273.6" height="71.7" rx="5" ry="5" fill="#fff" fill-opacity="0.8" stroke="#999" stroke-width="1.5"/>
<text x="1414" y="818.7" font-size="18.3" text-anchor="end" fill="#000" textLength="196.5" lengthAdjust="spacingAndGlyphs">Current Level: 9.48 ft</text>
<text x="1414" y="839.5" font-size="18.3" text-anchor="end" fill="#000" textLength="197" lengthAdjust="spacingAndGlyphs">7-Day Delta: +0.27 ft</text>
<text x="1414" y="860.2" font-size="18.3" text-anchor="end" fill="#000" textLength="261.5" lengthAdjust="spacingAndGlyphs">Departure from Avg: -7.37 ft</text>
</svg>
</body></html>
